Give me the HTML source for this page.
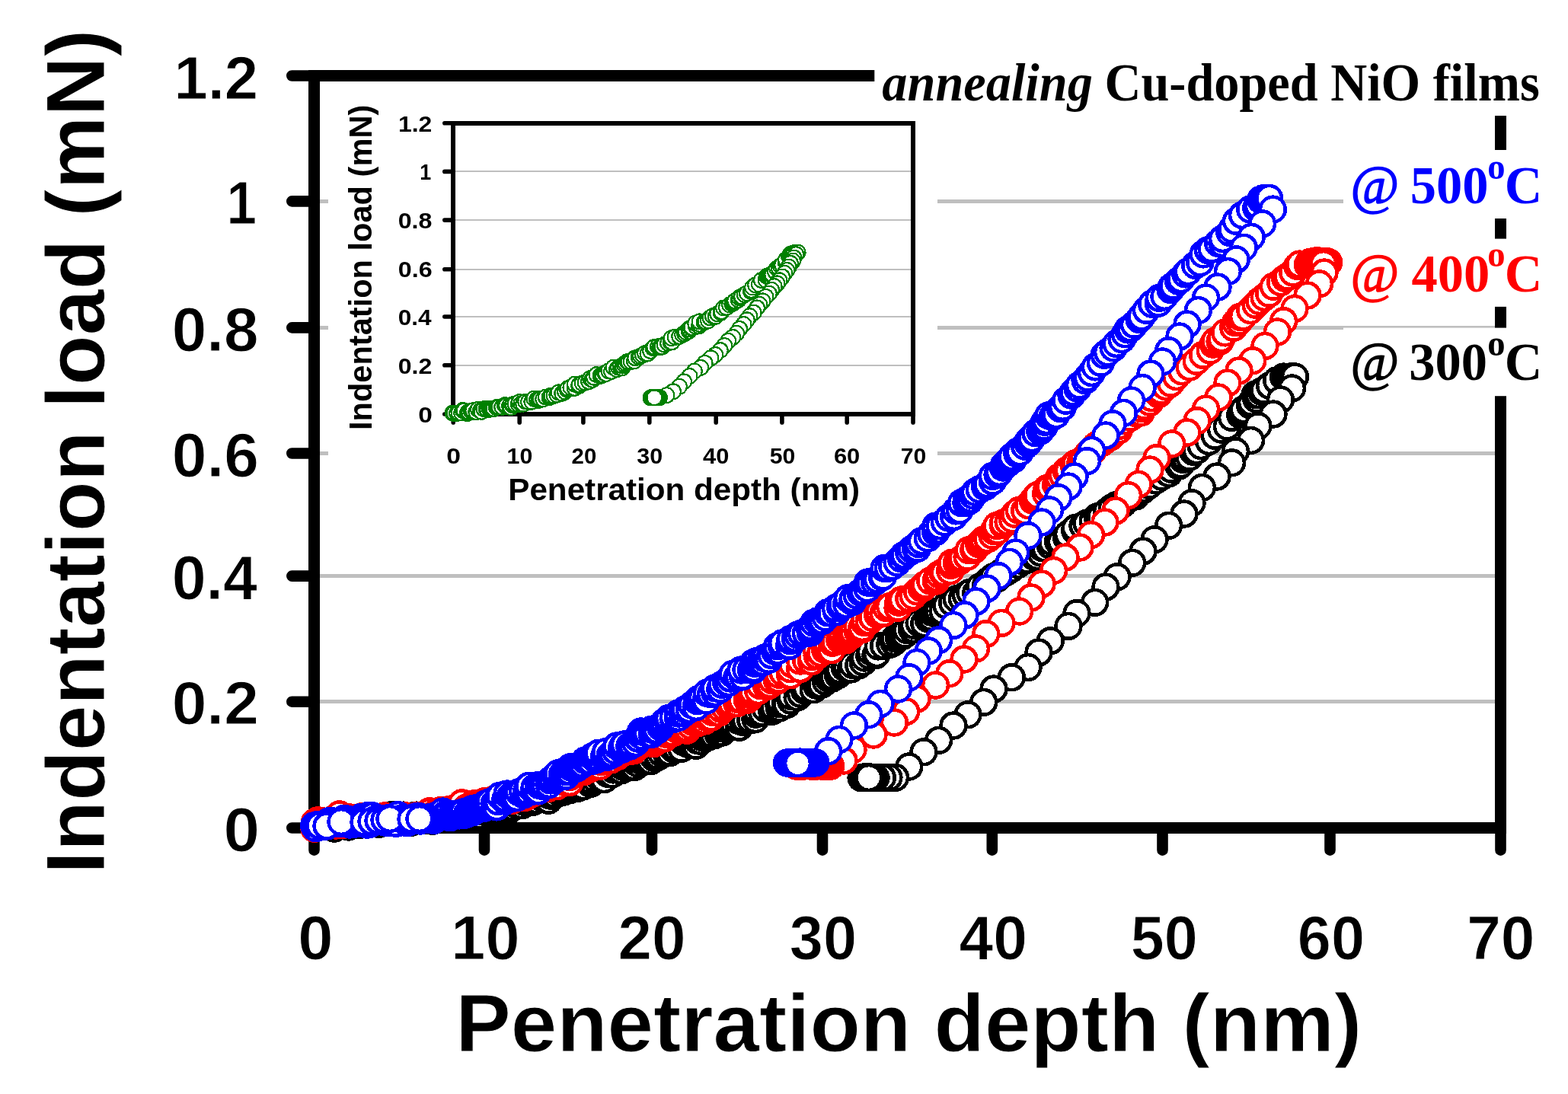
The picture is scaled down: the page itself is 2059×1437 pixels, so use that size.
<!DOCTYPE html>
<html lang="en"><head><meta charset="utf-8"><title>Indentation load vs penetration depth</title>
<style>html,body{margin:0;padding:0;background:#fff}body{width:2059px;height:1437px;overflow:hidden}svg{display:block}text{white-space:pre}</style>
</head><body>
<svg width="2059" height="1437" viewBox="0 0 2059 1437">
<rect width="2059" height="1437" fill="#fff"/>
<g stroke="#bfbfbf" stroke-width="5" shape-rendering="crispEdges">
<line x1="412.5" y1="264.4" x2="1970.5" y2="264.4"/>
<line x1="412.5" y1="430.4" x2="1970.5" y2="430.4"/>
<line x1="412.5" y1="595.5" x2="1970.5" y2="595.5"/>
<line x1="412.5" y1="756.6" x2="1970.5" y2="756.6"/>
<line x1="412.5" y1="921.7" x2="1970.5" y2="921.7"/>
</g>
<g stroke="#000" stroke-width="15" fill="none">
<path d="M412.5 92.0 V1087.5 M1970.5 92.0 V1087.5 M405.0 99.5 H1978.0 M405.0 1087.5 H1978.0" shape-rendering="crispEdges"/>
<path d="M383.3 99.5 H412.5 M383.3 264.4 H412.5 M383.3 430.4 H412.5 M383.3 595.5 H412.5 M383.3 756.6 H412.5 M383.3 921.7 H412.5 M383.3 1087.5 H412.5 M412.5 1087.5 V1116.7 M636 1087.5 V1116.7 M856 1087.5 V1116.7 M1080 1087.5 V1116.7 M1302.8 1087.5 V1116.7 M1526.5 1087.5 V1116.7 M1746.5 1087.5 V1116.7 M1970.5 1087.5 V1116.7" stroke-linecap="round" stroke-width="14.6"/>
</g>
<text transform="translate(228.42 130.00) scale(0.9961 1)" font-family="'Liberation Sans', sans-serif" font-weight="bold" font-style="normal" font-size="80.00" fill="#000" stroke="#fff" stroke-width="1">1.2</text>
<text transform="translate(297.39 294.00) scale(0.8871 1)" font-family="'Liberation Sans', sans-serif" font-weight="bold" font-style="normal" font-size="80.00" fill="#000" stroke="#fff" stroke-width="1">1</text>
<text transform="translate(225.73 460.50) scale(1.0137 1)" font-family="'Liberation Sans', sans-serif" font-weight="bold" font-style="normal" font-size="80.71" fill="#000" stroke="#fff" stroke-width="1">0.8</text>
<text transform="translate(225.71 625.50) scale(1.0175 1)" font-family="'Liberation Sans', sans-serif" font-weight="bold" font-style="normal" font-size="80.71" fill="#000" stroke="#fff" stroke-width="1">0.6</text>
<text transform="translate(225.77 786.50) scale(0.9994 1)" font-family="'Liberation Sans', sans-serif" font-weight="bold" font-style="normal" font-size="80.71" fill="#000" stroke="#fff" stroke-width="1">0.4</text>
<text transform="translate(225.72 951.00) scale(1.0258 1)" font-family="'Liberation Sans', sans-serif" font-weight="bold" font-style="normal" font-size="80.00" fill="#000" stroke="#fff" stroke-width="1">0.2</text>
<text transform="translate(293.58 1117.50) scale(1.0590 1)" font-family="'Liberation Sans', sans-serif" font-weight="bold" font-style="normal" font-size="80.71" fill="#000" stroke="#fff" stroke-width="1">0</text>
<text transform="translate(391.17 1259.60) scale(1.0212 1)" font-family="'Liberation Sans', sans-serif" font-weight="bold" font-style="normal" font-size="81.43" fill="#000" stroke="#fff" stroke-width="1">0</text>
<text transform="translate(592.34 1259.60) scale(0.9947 1)" font-family="'Liberation Sans', sans-serif" font-weight="bold" font-style="normal" font-size="81.43" fill="#000" stroke="#fff" stroke-width="1">10</text>
<text transform="translate(811.60 1259.60) scale(0.9825 1)" font-family="'Liberation Sans', sans-serif" font-weight="bold" font-style="normal" font-size="81.43" fill="#000" stroke="#fff" stroke-width="1">20</text>
<text transform="translate(1036.82 1259.60) scale(0.9731 1)" font-family="'Liberation Sans', sans-serif" font-weight="bold" font-style="normal" font-size="81.43" fill="#000" stroke="#fff" stroke-width="1">30</text>
<text transform="translate(1259.49 1259.60) scale(0.9883 1)" font-family="'Liberation Sans', sans-serif" font-weight="bold" font-style="normal" font-size="81.43" fill="#000" stroke="#fff" stroke-width="1">40</text>
<text transform="translate(1484.63 1259.60) scale(0.9718 1)" font-family="'Liberation Sans', sans-serif" font-weight="bold" font-style="normal" font-size="81.43" fill="#000" stroke="#fff" stroke-width="1">50</text>
<text transform="translate(1703.83 1259.60) scale(0.9730 1)" font-family="'Liberation Sans', sans-serif" font-weight="bold" font-style="normal" font-size="81.43" fill="#000" stroke="#fff" stroke-width="1">60</text>
<text transform="translate(1926.19 1259.60) scale(0.9849 1)" font-family="'Liberation Sans', sans-serif" font-weight="bold" font-style="normal" font-size="81.43" fill="#000" stroke="#fff" stroke-width="1">70</text>
<text transform="translate(598.13 1381.10) scale(1.0075 1)" font-family="'Liberation Sans', sans-serif" font-weight="bold" font-style="normal" font-size="107.94" fill="#000" stroke="#fff" stroke-width="1">Penetration depth (nm)</text>
<text transform="translate(137 1141) rotate(-90) translate(-7.02 0.00) scale(0.9886 1)" font-family="'Liberation Sans', sans-serif" font-weight="bold" font-style="normal" font-size="109.22" fill="#000" stroke="#fff" stroke-width="1">Indentation load (mN)</text>
<rect x="431" y="108" width="800" height="568" fill="#fff"/>
<g stroke="#bfbfbf" stroke-width="2" shape-rendering="crispEdges">
<line x1="595.2" y1="225.4" x2="1199" y2="225.4"/>
<line x1="595.2" y1="289.1" x2="1199" y2="289.1"/>
<line x1="595.2" y1="353.8" x2="1199" y2="353.8"/>
<line x1="595.2" y1="416" x2="1199" y2="416"/>
<line x1="595.2" y1="479.7" x2="1199" y2="479.7"/>
</g>
<g stroke="#000" stroke-width="5.8" fill="none">
<path d="M595.2 158.9 V544 M1199 158.9 V544 M592.3000000000001 161.8 H1201.9 M592.3000000000001 544 H1201.9" shape-rendering="crispEdges"/>
<path d="M583.8 161.8 H595.2 M583.8 225.4 H595.2 M583.8 289.1 H595.2 M583.8 353.8 H595.2 M583.8 416 H595.2 M583.8 479.7 H595.2 M583.8 544 H595.2 M595.2 544 V554.9000000000001 M682.2 544 V554.9000000000001 M765.9 544 V554.9000000000001 M852.8 544 V554.9000000000001 M940.2 544 V554.9000000000001 M1026.9 544 V554.9000000000001 M1112.2 544 V554.9000000000001 M1199 544 V554.9000000000001" stroke-linecap="round" stroke-width="5.6"/>
</g>
<text transform="translate(522.93 173.00) scale(1.0738 1)" font-family="'Liberation Sans', sans-serif" font-weight="bold" font-style="normal" font-size="29.71" fill="#000" >1.2</text>
<text transform="translate(551.25 236.00) scale(0.8918 1)" font-family="'Liberation Sans', sans-serif" font-weight="bold" font-style="normal" font-size="30.14" fill="#000" >1</text>
<text transform="translate(522.71 300.20) scale(1.0631 1)" font-family="'Liberation Sans', sans-serif" font-weight="bold" font-style="normal" font-size="30.29" fill="#000" >0.8</text>
<text transform="translate(522.71 364.00) scale(1.0773 1)" font-family="'Liberation Sans', sans-serif" font-weight="bold" font-style="normal" font-size="30.00" fill="#000" >0.6</text>
<text transform="translate(522.74 426.70) scale(1.0533 1)" font-family="'Liberation Sans', sans-serif" font-weight="bold" font-style="normal" font-size="30.00" fill="#000" >0.4</text>
<text transform="translate(522.72 491.00) scale(1.0586 1)" font-family="'Liberation Sans', sans-serif" font-weight="bold" font-style="normal" font-size="30.29" fill="#000" >0.2</text>
<text transform="translate(549.26 554.50) scale(1.1158 1)" font-family="'Liberation Sans', sans-serif" font-weight="bold" font-style="normal" font-size="30.00" fill="#000" >0</text>
<text transform="translate(586.35 609.20) scale(1.1122 1)" font-family="'Liberation Sans', sans-serif" font-weight="bold" font-style="normal" font-size="30.29" fill="#000" >0</text>
<text transform="translate(665.53 609.20) scale(1.0021 1)" font-family="'Liberation Sans', sans-serif" font-weight="bold" font-style="normal" font-size="30.29" fill="#000" >10</text>
<text transform="translate(750.57 609.20) scale(0.9698 1)" font-family="'Liberation Sans', sans-serif" font-weight="bold" font-style="normal" font-size="30.29" fill="#000" >20</text>
<text transform="translate(836.24 609.20) scale(1.0048 1)" font-family="'Liberation Sans', sans-serif" font-weight="bold" font-style="normal" font-size="30.29" fill="#000" >30</text>
<text transform="translate(923.04 609.20) scale(1.0172 1)" font-family="'Liberation Sans', sans-serif" font-weight="bold" font-style="normal" font-size="30.29" fill="#000" >40</text>
<text transform="translate(1010.69 609.20) scale(0.9969 1)" font-family="'Liberation Sans', sans-serif" font-weight="bold" font-style="normal" font-size="30.29" fill="#000" >50</text>
<text transform="translate(1094.92 609.20) scale(1.0209 1)" font-family="'Liberation Sans', sans-serif" font-weight="bold" font-style="normal" font-size="30.29" fill="#000" >60</text>
<text transform="translate(1182.64 609.20) scale(0.9986 1)" font-family="'Liberation Sans', sans-serif" font-weight="bold" font-style="normal" font-size="30.29" fill="#000" >70</text>
<text transform="translate(667.26 657.30) scale(1.0438 1)" font-family="'Liberation Sans', sans-serif" font-weight="bold" font-style="normal" font-size="40.43" fill="#000" >Penetration depth (nm)</text>
<text transform="translate(488.3 562.3) rotate(-90) translate(-2.70 0.00) scale(0.9938 1)" font-family="'Liberation Sans', sans-serif" font-weight="bold" font-style="normal" font-size="41.84" fill="#000" >Indentation load (mN)</text>
<g fill="#fff" stroke="#008000" stroke-width="2.2" shape-rendering="crispEdges">
<circle cx="594.6" cy="542.7" r="9.9"/><circle cx="596.6" cy="542.6" r="9.9"/><circle cx="600.1" cy="542.9" r="9.9"/><circle cx="602.6" cy="542.3" r="9.9"/><circle cx="606.1" cy="542.5" r="9.9"/><circle cx="607.6" cy="539" r="9.9"/><circle cx="609.6" cy="539.5" r="9.9"/><circle cx="613.7" cy="543.1" r="9.9"/><circle cx="614.8" cy="541.3" r="9.9"/><circle cx="616.3" cy="541.6" r="9.9"/><circle cx="618.5" cy="539.8" r="9.9"/><circle cx="619.2" cy="540" r="9.9"/><circle cx="621.2" cy="539.2" r="9.9"/><circle cx="625.3" cy="541.2" r="9.9"/><circle cx="627.9" cy="537.8" r="9.9"/><circle cx="631.1" cy="539" r="9.9"/><circle cx="632.3" cy="540.8" r="9.9"/><circle cx="635.4" cy="537.2" r="9.9"/><circle cx="638.8" cy="536.9" r="9.9"/><circle cx="640.2" cy="538.5" r="9.9"/><circle cx="643" cy="537.7" r="9.9"/><circle cx="644.3" cy="537.2" r="9.9"/><circle cx="645.5" cy="536.5" r="9.9"/><circle cx="646.3" cy="537" r="9.9"/><circle cx="647.7" cy="537.4" r="9.9"/><circle cx="648.4" cy="537" r="9.9"/><circle cx="651.9" cy="535.1" r="9.9"/><circle cx="653.5" cy="534.9" r="9.9"/><circle cx="655.4" cy="534.6" r="9.9"/><circle cx="659.2" cy="534.8" r="9.9"/><circle cx="662.9" cy="532.1" r="9.9"/><circle cx="664.2" cy="533.7" r="9.9"/><circle cx="665.1" cy="532.6" r="9.9"/><circle cx="669" cy="533.2" r="9.9"/><circle cx="670.7" cy="535.2" r="9.9"/><circle cx="672.7" cy="532.1" r="9.9"/><circle cx="673.8" cy="531.1" r="9.9"/><circle cx="676.4" cy="530.7" r="9.9"/><circle cx="680.8" cy="531.2" r="9.9"/><circle cx="681.9" cy="528.1" r="9.9"/><circle cx="684.4" cy="530.3" r="9.9"/><circle cx="687.2" cy="530.6" r="9.9"/><circle cx="690.2" cy="527.5" r="9.9"/><circle cx="694" cy="528" r="9.9"/><circle cx="698.4" cy="527.7" r="9.9"/><circle cx="701.3" cy="523.7" r="9.9"/><circle cx="705.1" cy="525.1" r="9.9"/><circle cx="707.4" cy="525.9" r="9.9"/><circle cx="708.2" cy="525.2" r="9.9"/><circle cx="709.7" cy="524" r="9.9"/><circle cx="713.2" cy="524.3" r="9.9"/><circle cx="716.8" cy="521.6" r="9.9"/><circle cx="721.5" cy="522" r="9.9"/><circle cx="722.6" cy="520" r="9.9"/><circle cx="724.4" cy="520.2" r="9.9"/><circle cx="727.5" cy="519.8" r="9.9"/><circle cx="731.4" cy="518.5" r="9.9"/><circle cx="733.7" cy="515.4" r="9.9"/><circle cx="738.3" cy="516.7" r="9.9"/><circle cx="742" cy="514.5" r="9.9"/><circle cx="745" cy="512" r="9.9"/><circle cx="745.8" cy="510.1" r="9.9"/><circle cx="749.4" cy="508.8" r="9.9"/><circle cx="754.8" cy="509.8" r="9.9"/><circle cx="754.9" cy="504.6" r="9.9"/><circle cx="760.1" cy="507" r="9.9"/><circle cx="760.8" cy="505.2" r="9.9"/><circle cx="764.7" cy="503.4" r="9.9"/><circle cx="768.7" cy="502.6" r="9.9"/><circle cx="773.1" cy="501.1" r="9.9"/><circle cx="775" cy="497.1" r="9.9"/><circle cx="777.2" cy="498.7" r="9.9"/><circle cx="778.2" cy="498.9" r="9.9"/><circle cx="780" cy="495.7" r="9.9"/><circle cx="783.4" cy="492.1" r="9.9"/><circle cx="788.5" cy="493.8" r="9.9"/><circle cx="789.6" cy="492.1" r="9.9"/><circle cx="791.7" cy="492.5" r="9.9"/><circle cx="794.2" cy="490.2" r="9.9"/><circle cx="796" cy="491" r="9.9"/><circle cx="799.3" cy="487.2" r="9.9"/><circle cx="803" cy="487.9" r="9.9"/><circle cx="805.7" cy="482.7" r="9.9"/><circle cx="809.9" cy="485.3" r="9.9"/><circle cx="812.1" cy="482.6" r="9.9"/><circle cx="814.6" cy="481.7" r="9.9"/><circle cx="817" cy="483.2" r="9.9"/><circle cx="817.5" cy="480.5" r="9.9"/><circle cx="819.9" cy="479" r="9.9"/><circle cx="821.3" cy="476.9" r="9.9"/><circle cx="823.8" cy="475.1" r="9.9"/><circle cx="825.6" cy="475.8" r="9.9"/><circle cx="828.8" cy="475.1" r="9.9"/><circle cx="832.9" cy="474.3" r="9.9"/><circle cx="834.2" cy="470.2" r="9.9"/><circle cx="838.9" cy="469.1" r="9.9"/><circle cx="841.1" cy="467.6" r="9.9"/><circle cx="843.9" cy="466.3" r="9.9"/><circle cx="847" cy="464.1" r="9.9"/><circle cx="850.5" cy="464.5" r="9.9"/><circle cx="854.1" cy="461" r="9.9"/><circle cx="857.6" cy="457.2" r="9.9"/><circle cx="859.2" cy="455.9" r="9.9"/><circle cx="863.9" cy="455.3" r="9.9"/><circle cx="866.3" cy="456.5" r="9.9"/><circle cx="867.3" cy="455.8" r="9.9"/><circle cx="869.4" cy="455.6" r="9.9"/><circle cx="872.7" cy="452.7" r="9.9"/><circle cx="877.1" cy="450.7" r="9.9"/><circle cx="880.6" cy="449.3" r="9.9"/><circle cx="882.4" cy="449.3" r="9.9"/><circle cx="881.7" cy="444.2" r="9.9"/><circle cx="886.6" cy="442.7" r="9.9"/><circle cx="892.2" cy="441.9" r="9.9"/><circle cx="896.1" cy="439.5" r="9.9"/><circle cx="899.1" cy="438.3" r="9.9"/><circle cx="900.8" cy="436.3" r="9.9"/><circle cx="904.7" cy="434.9" r="9.9"/><circle cx="904.4" cy="432.3" r="9.9"/><circle cx="905.7" cy="432.5" r="9.9"/><circle cx="907.5" cy="430.7" r="9.9"/><circle cx="908.5" cy="430.1" r="9.9"/><circle cx="914.1" cy="429" r="9.9"/><circle cx="913.2" cy="424.7" r="9.9"/><circle cx="917.9" cy="428.3" r="9.9"/><circle cx="918.9" cy="425.8" r="9.9"/><circle cx="918.6" cy="422.4" r="9.9"/><circle cx="924.6" cy="423.3" r="9.9"/><circle cx="926.6" cy="422.5" r="9.9"/><circle cx="930" cy="421.2" r="9.9"/><circle cx="932.5" cy="417.4" r="9.9"/><circle cx="935.9" cy="415.1" r="9.9"/><circle cx="939.7" cy="415.7" r="9.9"/><circle cx="942.2" cy="412.4" r="9.9"/><circle cx="946.7" cy="410.7" r="9.9"/><circle cx="947.3" cy="409.2" r="9.9"/><circle cx="950.1" cy="404.5" r="9.9"/><circle cx="953.9" cy="403.8" r="9.9"/><circle cx="958.1" cy="400.5" r="9.9"/><circle cx="961.4" cy="399.2" r="9.9"/><circle cx="963.1" cy="398" r="9.9"/><circle cx="964" cy="397.2" r="9.9"/><circle cx="965.1" cy="395.3" r="9.9"/><circle cx="969.7" cy="393.9" r="9.9"/><circle cx="970.6" cy="391" r="9.9"/><circle cx="973.2" cy="390.2" r="9.9"/><circle cx="974.1" cy="389.5" r="9.9"/><circle cx="977.8" cy="387.1" r="9.9"/><circle cx="980.9" cy="385.2" r="9.9"/><circle cx="985.8" cy="382.5" r="9.9"/><circle cx="986.6" cy="381" r="9.9"/><circle cx="988.1" cy="377.5" r="9.9"/><circle cx="992.1" cy="374.4" r="9.9"/><circle cx="996.9" cy="373.4" r="9.9"/><circle cx="999.9" cy="368" r="9.9"/><circle cx="1005.5" cy="367.8" r="9.9"/><circle cx="1006.8" cy="362.8" r="9.9"/><circle cx="1008.9" cy="363.3" r="9.9"/><circle cx="1011" cy="363.2" r="9.9"/><circle cx="1012.1" cy="360.9" r="9.9"/><circle cx="1014.3" cy="360.6" r="9.9"/><circle cx="1017.8" cy="356.5" r="9.9"/><circle cx="1020.1" cy="352.5" r="9.9"/><circle cx="1022.7" cy="351.7" r="9.9"/><circle cx="1025" cy="349.3" r="9.9"/><circle cx="1027.1" cy="348" r="9.9"/><circle cx="1031.6" cy="344.2" r="9.9"/><circle cx="1031.9" cy="341.3" r="9.9"/><circle cx="1036.1" cy="337.1" r="9.9"/><circle cx="1038" cy="337.5" r="9.9"/><circle cx="1038.3" cy="333.5" r="9.9"/><circle cx="1039.8" cy="333.3" r="9.9"/><circle cx="1041.6" cy="332.4" r="9.9"/><circle cx="1042.9" cy="332.1" r="9.9"/><circle cx="1045.9" cy="332.1" r="9.9"/><circle cx="1047.6" cy="331.6" r="9.9"/><circle cx="1045.2" cy="334.1" r="9.9"/><circle cx="1042.3" cy="338.5" r="9.9"/><circle cx="1041.1" cy="342.6" r="9.9"/><circle cx="1038" cy="345.9" r="9.9"/><circle cx="1035.7" cy="350.6" r="9.9"/><circle cx="1033.3" cy="354.9" r="9.9"/><circle cx="1030.4" cy="358.9" r="9.9"/><circle cx="1027.1" cy="363.5" r="9.9"/><circle cx="1023.4" cy="368.3" r="9.9"/><circle cx="1020.5" cy="372.4" r="9.9"/><circle cx="1016.6" cy="376.1" r="9.9"/><circle cx="1013.1" cy="380.9" r="9.9"/><circle cx="1009.8" cy="385.6" r="9.9"/><circle cx="1005.5" cy="389.8" r="9.9"/><circle cx="1001.5" cy="395.4" r="9.9"/><circle cx="997.4" cy="399.9" r="9.9"/><circle cx="994" cy="404.4" r="9.9"/><circle cx="989.7" cy="410.7" r="9.9"/><circle cx="984.5" cy="415.2" r="9.9"/><circle cx="980.8" cy="420.3" r="9.9"/><circle cx="976.5" cy="426" r="9.9"/><circle cx="971.1" cy="432" r="9.9"/><circle cx="967.2" cy="437.7" r="9.9"/><circle cx="962.3" cy="443" r="9.9"/><circle cx="956.2" cy="447.8" r="9.9"/><circle cx="951.2" cy="454" r="9.9"/><circle cx="945.8" cy="460.1" r="9.9"/><circle cx="939.4" cy="466" r="9.9"/><circle cx="933.4" cy="470.3" r="9.9"/><circle cx="925.6" cy="476.8" r="9.9"/><circle cx="920.2" cy="482.9" r="9.9"/><circle cx="911.9" cy="487.5" r="9.9"/><circle cx="905.5" cy="494" r="9.9"/><circle cx="898.1" cy="501.4" r="9.9"/><circle cx="892" cy="507.8" r="9.9"/><circle cx="884" cy="514.3" r="9.9"/><circle cx="875.5" cy="519.1" r="9.9"/><circle cx="866" cy="522.3" r="9.9"/><circle cx="864.6" cy="522.3" r="9.9"/><circle cx="863.1" cy="522.3" r="9.9"/><circle cx="861.7" cy="522.3" r="9.9"/><circle cx="860.2" cy="522.3" r="9.9"/><circle cx="858.8" cy="522.3" r="9.9"/><circle cx="857.4" cy="522.3" r="9.9"/><circle cx="855.9" cy="522.3" r="9.9"/><circle cx="854.5" cy="522.3" r="9.9"/><circle cx="855.5" cy="522.3" r="9.9"/><circle cx="857.4" cy="522.3" r="9.9"/><circle cx="859.3" cy="522.3" r="9.9"/>
</g>
<g fill="#fff" stroke="#000" stroke-width="4.6" shape-rendering="crispEdges">
<circle cx="412.8" cy="1086.5" r="16.4"/><circle cx="416.1" cy="1086.7" r="16.4"/><circle cx="417.3" cy="1079.8" r="16.4"/><circle cx="420.4" cy="1082.7" r="16.4"/><circle cx="423.8" cy="1083" r="16.4"/><circle cx="427.3" cy="1082.6" r="16.4"/><circle cx="429.4" cy="1082.2" r="16.4"/><circle cx="431.7" cy="1081.9" r="16.4"/><circle cx="434.9" cy="1082.7" r="16.4"/><circle cx="438.9" cy="1088.1" r="16.4"/><circle cx="439.6" cy="1085" r="16.4"/><circle cx="443.3" cy="1082" r="16.4"/><circle cx="445.3" cy="1081.9" r="16.4"/><circle cx="446.3" cy="1084.1" r="16.4"/><circle cx="447.5" cy="1078.3" r="16.4"/><circle cx="449.2" cy="1082.3" r="16.4"/><circle cx="450.7" cy="1081.6" r="16.4"/><circle cx="452.5" cy="1083.9" r="16.4"/><circle cx="453.2" cy="1082.7" r="16.4"/><circle cx="455.9" cy="1077.8" r="16.4"/><circle cx="457.7" cy="1086" r="16.4"/><circle cx="458.5" cy="1080.4" r="16.4"/><circle cx="460.4" cy="1079.8" r="16.4"/><circle cx="464.1" cy="1076.1" r="16.4"/><circle cx="466.6" cy="1082.1" r="16.4"/><circle cx="468.1" cy="1076.6" r="16.4"/><circle cx="471.2" cy="1083.8" r="16.4"/><circle cx="473.3" cy="1076.3" r="16.4"/><circle cx="476.4" cy="1081.6" r="16.4"/><circle cx="479.7" cy="1079.9" r="16.4"/><circle cx="482" cy="1080.9" r="16.4"/><circle cx="485.2" cy="1082.1" r="16.4"/><circle cx="488" cy="1076.9" r="16.4"/><circle cx="490.7" cy="1080.8" r="16.4"/><circle cx="493.9" cy="1075.8" r="16.4"/><circle cx="496.4" cy="1078" r="16.4"/><circle cx="497.6" cy="1082.3" r="16.4"/><circle cx="501.6" cy="1079.2" r="16.4"/><circle cx="504.2" cy="1076.5" r="16.4"/><circle cx="506.9" cy="1078.7" r="16.4"/><circle cx="511" cy="1077.8" r="16.4"/><circle cx="514.5" cy="1073.8" r="16.4"/><circle cx="515.8" cy="1070.4" r="16.4"/><circle cx="519" cy="1076.2" r="16.4"/><circle cx="521.4" cy="1076.2" r="16.4"/><circle cx="525.8" cy="1079.7" r="16.4"/><circle cx="526.4" cy="1077.3" r="16.4"/><circle cx="529.9" cy="1071.1" r="16.4"/><circle cx="533.7" cy="1076.9" r="16.4"/><circle cx="536.2" cy="1072.5" r="16.4"/><circle cx="539.1" cy="1080.5" r="16.4"/><circle cx="541.6" cy="1077" r="16.4"/><circle cx="542.7" cy="1071.9" r="16.4"/><circle cx="545" cy="1074.8" r="16.4"/><circle cx="546.8" cy="1071.1" r="16.4"/><circle cx="549.9" cy="1073.6" r="16.4"/><circle cx="552.6" cy="1076.2" r="16.4"/><circle cx="553.9" cy="1074.5" r="16.4"/><circle cx="557" cy="1077.1" r="16.4"/><circle cx="560.1" cy="1070" r="16.4"/><circle cx="564.1" cy="1073.2" r="16.4"/><circle cx="567.8" cy="1078.3" r="16.4"/><circle cx="568.5" cy="1073.5" r="16.4"/><circle cx="572" cy="1072.8" r="16.4"/><circle cx="573.9" cy="1075.5" r="16.4"/><circle cx="575.9" cy="1074.8" r="16.4"/><circle cx="576.9" cy="1074.1" r="16.4"/><circle cx="578.4" cy="1075" r="16.4"/><circle cx="579.9" cy="1071.3" r="16.4"/><circle cx="581.7" cy="1069" r="16.4"/><circle cx="584.7" cy="1074.2" r="16.4"/><circle cx="586.9" cy="1071.8" r="16.4"/><circle cx="588.7" cy="1075.7" r="16.4"/><circle cx="591.4" cy="1074.6" r="16.4"/><circle cx="592.2" cy="1066.9" r="16.4"/><circle cx="593.1" cy="1067.7" r="16.4"/><circle cx="594.6" cy="1073.2" r="16.4"/><circle cx="596.1" cy="1073.9" r="16.4"/><circle cx="599" cy="1068.6" r="16.4"/><circle cx="600.4" cy="1066.9" r="16.4"/><circle cx="605.3" cy="1070.3" r="16.4"/><circle cx="606.4" cy="1066.1" r="16.4"/><circle cx="609.7" cy="1066" r="16.4"/><circle cx="612.4" cy="1070.6" r="16.4"/><circle cx="615.6" cy="1070.2" r="16.4"/><circle cx="619.8" cy="1068.2" r="16.4"/><circle cx="623.5" cy="1065" r="16.4"/><circle cx="626.6" cy="1071.4" r="16.4"/><circle cx="630.2" cy="1065.7" r="16.4"/><circle cx="631.5" cy="1062.7" r="16.4"/><circle cx="632.9" cy="1065.9" r="16.4"/><circle cx="636.7" cy="1064.2" r="16.4"/><circle cx="641" cy="1062.4" r="16.4"/><circle cx="645.3" cy="1062.5" r="16.4"/><circle cx="649.9" cy="1061.5" r="16.4"/><circle cx="651.8" cy="1058.9" r="16.4"/><circle cx="654.7" cy="1062.6" r="16.4"/><circle cx="657.7" cy="1064.9" r="16.4"/><circle cx="659.2" cy="1063.9" r="16.4"/><circle cx="661" cy="1062.8" r="16.4"/><circle cx="662.9" cy="1057.5" r="16.4"/><circle cx="668.7" cy="1063.8" r="16.4"/><circle cx="668.8" cy="1059.6" r="16.4"/><circle cx="673.8" cy="1060.2" r="16.4"/><circle cx="677.1" cy="1056.2" r="16.4"/><circle cx="681.1" cy="1057.9" r="16.4"/><circle cx="685.4" cy="1057.7" r="16.4"/><circle cx="689.1" cy="1053.5" r="16.4"/><circle cx="691" cy="1046" r="16.4"/><circle cx="694.8" cy="1053.9" r="16.4"/><circle cx="698.8" cy="1053.6" r="16.4"/><circle cx="703.1" cy="1051.8" r="16.4"/><circle cx="704.6" cy="1050.8" r="16.4"/><circle cx="707.7" cy="1045.8" r="16.4"/><circle cx="710.7" cy="1047.5" r="16.4"/><circle cx="716" cy="1049" r="16.4"/><circle cx="720.4" cy="1051.2" r="16.4"/><circle cx="719.5" cy="1044.1" r="16.4"/><circle cx="723.3" cy="1045.1" r="16.4"/><circle cx="724.3" cy="1044.5" r="16.4"/><circle cx="728.9" cy="1043.6" r="16.4"/><circle cx="728.9" cy="1037" r="16.4"/><circle cx="734.2" cy="1040.9" r="16.4"/><circle cx="736.2" cy="1036.7" r="16.4"/><circle cx="739.5" cy="1040.2" r="16.4"/><circle cx="743.6" cy="1037.7" r="16.4"/><circle cx="747.4" cy="1038" r="16.4"/><circle cx="747.9" cy="1033.5" r="16.4"/><circle cx="752.5" cy="1033.4" r="16.4"/><circle cx="755.9" cy="1031.5" r="16.4"/><circle cx="758.8" cy="1035.3" r="16.4"/><circle cx="759.7" cy="1034.4" r="16.4"/><circle cx="761.2" cy="1032.9" r="16.4"/><circle cx="761.5" cy="1029.5" r="16.4"/><circle cx="763.2" cy="1029.3" r="16.4"/><circle cx="766" cy="1032.8" r="16.4"/><circle cx="767.1" cy="1022" r="16.4"/><circle cx="775.5" cy="1029.5" r="16.4"/><circle cx="775.7" cy="1024" r="16.4"/><circle cx="778.2" cy="1026.4" r="16.4"/><circle cx="780.8" cy="1022.5" r="16.4"/><circle cx="785.7" cy="1020.2" r="16.4"/><circle cx="786.9" cy="1017" r="16.4"/><circle cx="789.4" cy="1016.8" r="16.4"/><circle cx="793.4" cy="1023.6" r="16.4"/><circle cx="794.9" cy="1012.5" r="16.4"/><circle cx="797.9" cy="1016.2" r="16.4"/><circle cx="804" cy="1016.9" r="16.4"/><circle cx="805.4" cy="1010.9" r="16.4"/><circle cx="806.7" cy="1008.1" r="16.4"/><circle cx="811" cy="1009.6" r="16.4"/><circle cx="813.2" cy="1011.6" r="16.4"/><circle cx="815.7" cy="1011.8" r="16.4"/><circle cx="818.4" cy="1007.3" r="16.4"/><circle cx="823.1" cy="1008.6" r="16.4"/><circle cx="824.3" cy="1004.5" r="16.4"/><circle cx="826.3" cy="1002.6" r="16.4"/><circle cx="833.5" cy="1007.3" r="16.4"/><circle cx="833.7" cy="1000.4" r="16.4"/><circle cx="838.8" cy="1003.5" r="16.4"/><circle cx="841.4" cy="999.4" r="16.4"/><circle cx="843.7" cy="999.2" r="16.4"/><circle cx="844.5" cy="997.3" r="16.4"/><circle cx="846" cy="997.5" r="16.4"/><circle cx="849.6" cy="995.3" r="16.4"/><circle cx="854.7" cy="999.6" r="16.4"/><circle cx="858.7" cy="995.3" r="16.4"/><circle cx="863.7" cy="994.5" r="16.4"/><circle cx="864.7" cy="993" r="16.4"/><circle cx="868.7" cy="989.5" r="16.4"/><circle cx="874.8" cy="989.1" r="16.4"/><circle cx="875.3" cy="985.6" r="16.4"/><circle cx="880" cy="988.4" r="16.4"/><circle cx="884.3" cy="983.8" r="16.4"/><circle cx="886.6" cy="984.8" r="16.4"/><circle cx="888.8" cy="983.1" r="16.4"/><circle cx="894.9" cy="983.4" r="16.4"/><circle cx="897.4" cy="974.6" r="16.4"/><circle cx="903.7" cy="977.5" r="16.4"/><circle cx="906.5" cy="975.5" r="16.4"/><circle cx="908.5" cy="975.4" r="16.4"/><circle cx="909.6" cy="971.7" r="16.4"/><circle cx="914.1" cy="979.3" r="16.4"/><circle cx="915.6" cy="972.3" r="16.4"/><circle cx="920.4" cy="973.5" r="16.4"/><circle cx="921.7" cy="968.5" r="16.4"/><circle cx="925.3" cy="969.5" r="16.4"/><circle cx="929.7" cy="968.4" r="16.4"/><circle cx="932.2" cy="965.7" r="16.4"/><circle cx="935.2" cy="964.9" r="16.4"/><circle cx="937.6" cy="965.9" r="16.4"/><circle cx="942.7" cy="963.7" r="16.4"/><circle cx="943.9" cy="958.3" r="16.4"/><circle cx="948.2" cy="962" r="16.4"/><circle cx="947.2" cy="956.7" r="16.4"/><circle cx="952.4" cy="957.2" r="16.4"/><circle cx="955.2" cy="954.7" r="16.4"/><circle cx="956.5" cy="951.6" r="16.4"/><circle cx="960.9" cy="951.9" r="16.4"/><circle cx="964.9" cy="952.5" r="16.4"/><circle cx="970.7" cy="955.2" r="16.4"/><circle cx="969.9" cy="946.4" r="16.4"/><circle cx="975.9" cy="948.5" r="16.4"/><circle cx="979.4" cy="946.2" r="16.4"/><circle cx="985.8" cy="945.8" r="16.4"/><circle cx="992" cy="944.6" r="16.4"/><circle cx="992.4" cy="938.1" r="16.4"/><circle cx="994.2" cy="934" r="16.4"/><circle cx="1000.9" cy="936.1" r="16.4"/><circle cx="1005.1" cy="930.6" r="16.4"/><circle cx="1013.8" cy="934.3" r="16.4"/><circle cx="1014.1" cy="929.5" r="16.4"/><circle cx="1017.2" cy="929.8" r="16.4"/><circle cx="1023.5" cy="929.9" r="16.4"/><circle cx="1022.6" cy="924.5" r="16.4"/><circle cx="1024.7" cy="921.2" r="16.4"/><circle cx="1031.2" cy="924.8" r="16.4"/><circle cx="1033.3" cy="925.5" r="16.4"/><circle cx="1038.5" cy="920.2" r="16.4"/><circle cx="1038.9" cy="914.5" r="16.4"/><circle cx="1047.1" cy="915.9" r="16.4"/><circle cx="1051.5" cy="911.5" r="16.4"/><circle cx="1056.3" cy="906.8" r="16.4"/><circle cx="1059.2" cy="903.8" r="16.4"/><circle cx="1068.2" cy="905.8" r="16.4"/><circle cx="1072.2" cy="900.1" r="16.4"/><circle cx="1076.5" cy="899.6" r="16.4"/><circle cx="1078.8" cy="899.3" r="16.4"/><circle cx="1084.5" cy="895.2" r="16.4"/><circle cx="1088.2" cy="891.3" r="16.4"/><circle cx="1092.6" cy="891.1" r="16.4"/><circle cx="1095.1" cy="889.5" r="16.4"/><circle cx="1100.5" cy="886.7" r="16.4"/><circle cx="1103.3" cy="883.2" r="16.4"/><circle cx="1103.3" cy="880.2" r="16.4"/><circle cx="1109.1" cy="876.8" r="16.4"/><circle cx="1112.4" cy="877.1" r="16.4"/><circle cx="1117.2" cy="879" r="16.4"/><circle cx="1120" cy="873.5" r="16.4"/><circle cx="1127.8" cy="873.8" r="16.4"/><circle cx="1133.2" cy="869.8" r="16.4"/><circle cx="1135.3" cy="864" r="16.4"/><circle cx="1141.9" cy="861.3" r="16.4"/><circle cx="1143.4" cy="855.9" r="16.4"/><circle cx="1150" cy="860.5" r="16.4"/><circle cx="1151.5" cy="858.7" r="16.4"/><circle cx="1153.3" cy="848.9" r="16.4"/><circle cx="1160.6" cy="848.2" r="16.4"/><circle cx="1168.9" cy="846.3" r="16.4"/><circle cx="1173.7" cy="843.6" r="16.4"/><circle cx="1175.1" cy="838.9" r="16.4"/><circle cx="1180.3" cy="837.6" r="16.4"/><circle cx="1180.6" cy="835.3" r="16.4"/><circle cx="1185.1" cy="835.5" r="16.4"/><circle cx="1188.6" cy="833.1" r="16.4"/><circle cx="1191.1" cy="827.7" r="16.4"/><circle cx="1197.2" cy="826" r="16.4"/><circle cx="1199.5" cy="826.6" r="16.4"/><circle cx="1200.4" cy="821.4" r="16.4"/><circle cx="1207.1" cy="818.1" r="16.4"/><circle cx="1213.8" cy="818.8" r="16.4"/><circle cx="1219" cy="812.9" r="16.4"/><circle cx="1222.9" cy="810.5" r="16.4"/><circle cx="1223.3" cy="804.1" r="16.4"/><circle cx="1227.7" cy="805.7" r="16.4"/><circle cx="1231.4" cy="803.5" r="16.4"/><circle cx="1232.8" cy="802.7" r="16.4"/><circle cx="1238.1" cy="802.6" r="16.4"/><circle cx="1243" cy="795.2" r="16.4"/><circle cx="1250.7" cy="791.8" r="16.4"/><circle cx="1256.2" cy="786.8" r="16.4"/><circle cx="1263.4" cy="786.2" r="16.4"/><circle cx="1268.4" cy="781.6" r="16.4"/><circle cx="1273.9" cy="778.2" r="16.4"/><circle cx="1281.8" cy="778.6" r="16.4"/><circle cx="1286.8" cy="770.8" r="16.4"/><circle cx="1294.6" cy="768.8" r="16.4"/><circle cx="1296.8" cy="763.7" r="16.4"/><circle cx="1300.7" cy="762.9" r="16.4"/><circle cx="1304.5" cy="757.6" r="16.4"/><circle cx="1309.4" cy="760" r="16.4"/><circle cx="1312.6" cy="754.7" r="16.4"/><circle cx="1313.8" cy="752.6" r="16.4"/><circle cx="1319.7" cy="752.3" r="16.4"/><circle cx="1323.6" cy="749.9" r="16.4"/><circle cx="1328.6" cy="746.8" r="16.4"/><circle cx="1336.6" cy="741.6" r="16.4"/><circle cx="1342.5" cy="736.8" r="16.4"/><circle cx="1349.4" cy="735.1" r="16.4"/><circle cx="1357.8" cy="731.1" r="16.4"/><circle cx="1362.2" cy="730.6" r="16.4"/><circle cx="1366.9" cy="726.1" r="16.4"/><circle cx="1368.9" cy="719.8" r="16.4"/><circle cx="1373.1" cy="720.4" r="16.4"/><circle cx="1379.2" cy="716.2" r="16.4"/><circle cx="1381.6" cy="711.9" r="16.4"/><circle cx="1389.5" cy="711.3" r="16.4"/><circle cx="1393.4" cy="711.3" r="16.4"/><circle cx="1400.4" cy="705.7" r="16.4"/><circle cx="1402.5" cy="701.8" r="16.4"/><circle cx="1411.6" cy="696.7" r="16.4"/><circle cx="1412.3" cy="693.5" r="16.4"/><circle cx="1422" cy="690.3" r="16.4"/><circle cx="1427" cy="687.3" r="16.4"/><circle cx="1435.2" cy="683.9" r="16.4"/><circle cx="1441.1" cy="678.7" r="16.4"/><circle cx="1445.7" cy="679.5" r="16.4"/><circle cx="1453.4" cy="672.1" r="16.4"/><circle cx="1460.4" cy="666.8" r="16.4"/><circle cx="1466.4" cy="663.3" r="16.4"/><circle cx="1470.7" cy="663.8" r="16.4"/><circle cx="1475.5" cy="661.2" r="16.4"/><circle cx="1482.1" cy="654.6" r="16.4"/><circle cx="1491.1" cy="652" r="16.4"/><circle cx="1494.5" cy="648" r="16.4"/><circle cx="1500.1" cy="644" r="16.4"/><circle cx="1502.2" cy="641.6" r="16.4"/><circle cx="1509" cy="637.4" r="16.4"/><circle cx="1517.7" cy="631" r="16.4"/><circle cx="1525.4" cy="626.1" r="16.4"/><circle cx="1535" cy="621.8" r="16.4"/><circle cx="1537.9" cy="616.2" r="16.4"/><circle cx="1548" cy="612" r="16.4"/><circle cx="1550.5" cy="610" r="16.4"/><circle cx="1553.4" cy="603.4" r="16.4"/><circle cx="1557.7" cy="602.5" r="16.4"/><circle cx="1561.9" cy="600.4" r="16.4"/><circle cx="1566.8" cy="593.3" r="16.4"/><circle cx="1571.2" cy="591.8" r="16.4"/><circle cx="1577.1" cy="585.6" r="16.4"/><circle cx="1587.5" cy="579.6" r="16.4"/><circle cx="1595.3" cy="572.2" r="16.4"/><circle cx="1603.4" cy="564" r="16.4"/><circle cx="1611.4" cy="560" r="16.4"/><circle cx="1617.5" cy="548.3" r="16.4"/><circle cx="1628.9" cy="544.9" r="16.4"/><circle cx="1630.6" cy="540.7" r="16.4"/><circle cx="1633.2" cy="537.7" r="16.4"/><circle cx="1641.5" cy="532" r="16.4"/><circle cx="1643.5" cy="528.5" r="16.4"/><circle cx="1649.9" cy="524.1" r="16.4"/><circle cx="1648.1" cy="518.3" r="16.4"/><circle cx="1652.8" cy="518.6" r="16.4"/><circle cx="1656.4" cy="514.3" r="16.4"/><circle cx="1659.8" cy="512.4" r="16.4"/><circle cx="1667.6" cy="506.6" r="16.4"/><circle cx="1676.6" cy="499.8" r="16.4"/><circle cx="1685.6" cy="495.1" r="16.4"/><circle cx="1689.3" cy="497.1" r="16.4"/><circle cx="1689.9" cy="495.9" r="16.4"/><circle cx="1691.9" cy="496.9" r="16.4"/><circle cx="1692.8" cy="495.2" r="16.4"/><circle cx="1695.7" cy="494.9" r="16.4"/><circle cx="1696" cy="496.5" r="16.4"/><circle cx="1698.2" cy="495.3" r="16.4"/><circle cx="1699.7" cy="496.3" r="16.4"/><circle cx="1700.4" cy="495" r="16.4"/><circle cx="1696.5" cy="510" r="16.4"/><circle cx="1681.4" cy="525" r="16.4"/><circle cx="1672" cy="544" r="16.4"/><circle cx="1652" cy="559.6" r="16.4"/><circle cx="1642.6" cy="578.5" r="16.4"/><circle cx="1622.5" cy="592.8" r="16.4"/><circle cx="1617.5" cy="607.8" r="16.4"/><circle cx="1598" cy="626" r="16.4"/><circle cx="1578.5" cy="640.4" r="16.4"/><circle cx="1565" cy="660.8" r="16.4"/><circle cx="1555" cy="675" r="16.4"/><circle cx="1534.6" cy="690.3" r="16.4"/><circle cx="1516" cy="708.7" r="16.4"/><circle cx="1501" cy="724" r="16.4"/><circle cx="1486.7" cy="739.3" r="16.4"/><circle cx="1467" cy="757.7" r="16.4"/><circle cx="1452" cy="771" r="16.4"/><circle cx="1437.7" cy="791.3" r="16.4"/><circle cx="1414" cy="805.6" r="16.4"/><circle cx="1403" cy="822.4" r="16.4"/><circle cx="1379.4" cy="841.8" r="16.4"/><circle cx="1364" cy="857" r="16.4"/><circle cx="1350" cy="876.5" r="16.4"/><circle cx="1328.4" cy="889.8" r="16.4"/><circle cx="1305" cy="905" r="16.4"/><circle cx="1291.7" cy="922.4" r="16.4"/><circle cx="1271" cy="938.7" r="16.4"/><circle cx="1252" cy="953" r="16.4"/><circle cx="1232.6" cy="972.4" r="16.4"/><circle cx="1213" cy="987.7" r="16.4"/><circle cx="1193.8" cy="1007" r="16.4"/><circle cx="1175.6" cy="1021.3" r="16.4"/><circle cx="1166.9" cy="1021.3" r="16.4"/><circle cx="1158.4" cy="1021.5" r="16.4"/><circle cx="1150" cy="1021.8" r="16.4"/><circle cx="1145.7" cy="1021.4" r="16.4"/><circle cx="1144" cy="1021.8" r="16.4"/><circle cx="1142.5" cy="1021" r="16.4"/><circle cx="1140.4" cy="1021.4" r="16.4"/><circle cx="1138.5" cy="1021" r="16.4"/><circle cx="1136.6" cy="1021.5" r="16.4"/><circle cx="1135" cy="1021.1" r="16.4"/><circle cx="1132.3" cy="1021.7" r="16.4"/><circle cx="1131.1" cy="1021.8" r="16.4"/><circle cx="1133.3" cy="1021.4" r="16.4"/><circle cx="1135.6" cy="1020.9" r="16.4"/><circle cx="1138.5" cy="1021.2" r="16.4"/><circle cx="1140.9" cy="1021.5" r="16.4"/>
</g>
<g fill="#fff" stroke="#f00" stroke-width="4.6" shape-rendering="crispEdges">
<circle cx="413" cy="1088.3" r="16.4"/><circle cx="413.4" cy="1080.2" r="16.4"/><circle cx="414.7" cy="1084.1" r="16.4"/><circle cx="417.2" cy="1077.9" r="16.4"/><circle cx="419" cy="1078.6" r="16.4"/><circle cx="421.7" cy="1079.1" r="16.4"/><circle cx="423" cy="1078.8" r="16.4"/><circle cx="426.4" cy="1082.2" r="16.4"/><circle cx="430.6" cy="1084" r="16.4"/><circle cx="432.5" cy="1079.6" r="16.4"/><circle cx="434.2" cy="1081.1" r="16.4"/><circle cx="436.5" cy="1080.5" r="16.4"/><circle cx="438" cy="1076.1" r="16.4"/><circle cx="441" cy="1084" r="16.4"/><circle cx="443.4" cy="1080" r="16.4"/><circle cx="445.2" cy="1080.4" r="16.4"/><circle cx="445.7" cy="1069.9" r="16.4"/><circle cx="449.3" cy="1078.9" r="16.4"/><circle cx="451" cy="1083.2" r="16.4"/><circle cx="453.7" cy="1076.2" r="16.4"/><circle cx="457.8" cy="1079.3" r="16.4"/><circle cx="459.3" cy="1074" r="16.4"/><circle cx="463.8" cy="1080" r="16.4"/><circle cx="467" cy="1077.8" r="16.4"/><circle cx="469.9" cy="1074.8" r="16.4"/><circle cx="472.7" cy="1078.6" r="16.4"/><circle cx="476.1" cy="1072.4" r="16.4"/><circle cx="478.4" cy="1077.3" r="16.4"/><circle cx="482.4" cy="1079.5" r="16.4"/><circle cx="484.7" cy="1075.1" r="16.4"/><circle cx="488.7" cy="1076.1" r="16.4"/><circle cx="490" cy="1073.4" r="16.4"/><circle cx="492.1" cy="1075.8" r="16.4"/><circle cx="495.9" cy="1074.5" r="16.4"/><circle cx="497.8" cy="1077.8" r="16.4"/><circle cx="501.6" cy="1074.3" r="16.4"/><circle cx="504.6" cy="1072" r="16.4"/><circle cx="507.9" cy="1074.9" r="16.4"/><circle cx="510.6" cy="1074.1" r="16.4"/><circle cx="513.4" cy="1076.3" r="16.4"/><circle cx="517.2" cy="1073.5" r="16.4"/><circle cx="520.8" cy="1073.1" r="16.4"/><circle cx="524.3" cy="1075" r="16.4"/><circle cx="527.4" cy="1072.3" r="16.4"/><circle cx="528.4" cy="1071.9" r="16.4"/><circle cx="529.9" cy="1071.2" r="16.4"/><circle cx="534.1" cy="1075.2" r="16.4"/><circle cx="537.8" cy="1074.2" r="16.4"/><circle cx="539.4" cy="1073.4" r="16.4"/><circle cx="542.1" cy="1077.2" r="16.4"/><circle cx="545.1" cy="1073.9" r="16.4"/><circle cx="546.2" cy="1071.8" r="16.4"/><circle cx="550" cy="1076.7" r="16.4"/><circle cx="550.6" cy="1074.2" r="16.4"/><circle cx="553.8" cy="1072.5" r="16.4"/><circle cx="557.3" cy="1070.3" r="16.4"/><circle cx="558.8" cy="1071.5" r="16.4"/><circle cx="561.2" cy="1073.4" r="16.4"/><circle cx="561.8" cy="1071" r="16.4"/><circle cx="562.5" cy="1069.3" r="16.4"/><circle cx="564.1" cy="1065.8" r="16.4"/><circle cx="565.3" cy="1066.1" r="16.4"/><circle cx="568.1" cy="1071.6" r="16.4"/><circle cx="571.3" cy="1068.8" r="16.4"/><circle cx="575.2" cy="1071.5" r="16.4"/><circle cx="578.2" cy="1064.7" r="16.4"/><circle cx="581.6" cy="1064.9" r="16.4"/><circle cx="585.1" cy="1066.7" r="16.4"/><circle cx="587.4" cy="1068.4" r="16.4"/><circle cx="591.2" cy="1067.2" r="16.4"/><circle cx="591.9" cy="1063" r="16.4"/><circle cx="594.7" cy="1063.5" r="16.4"/><circle cx="596.5" cy="1066.6" r="16.4"/><circle cx="599.1" cy="1063.6" r="16.4"/><circle cx="602.1" cy="1067.1" r="16.4"/><circle cx="602.9" cy="1063.9" r="16.4"/><circle cx="604.1" cy="1064.9" r="16.4"/><circle cx="605" cy="1063.4" r="16.4"/><circle cx="606.5" cy="1054.9" r="16.4"/><circle cx="612.2" cy="1061.2" r="16.4"/><circle cx="616.8" cy="1061" r="16.4"/><circle cx="619.1" cy="1063.1" r="16.4"/><circle cx="620.6" cy="1056.2" r="16.4"/><circle cx="624" cy="1055.4" r="16.4"/><circle cx="625.8" cy="1055.5" r="16.4"/><circle cx="627.7" cy="1059.6" r="16.4"/><circle cx="628" cy="1056.8" r="16.4"/><circle cx="631.9" cy="1057.7" r="16.4"/><circle cx="633.8" cy="1058" r="16.4"/><circle cx="635.3" cy="1057.2" r="16.4"/><circle cx="635.9" cy="1052.9" r="16.4"/><circle cx="638.5" cy="1054.9" r="16.4"/><circle cx="642.1" cy="1055.8" r="16.4"/><circle cx="647.6" cy="1059" r="16.4"/><circle cx="649.1" cy="1049.7" r="16.4"/><circle cx="653.1" cy="1053.1" r="16.4"/><circle cx="653.1" cy="1048.8" r="16.4"/><circle cx="655.6" cy="1052.8" r="16.4"/><circle cx="656.6" cy="1051.8" r="16.4"/><circle cx="658.7" cy="1048" r="16.4"/><circle cx="663.2" cy="1047.7" r="16.4"/><circle cx="667.8" cy="1047" r="16.4"/><circle cx="671.3" cy="1051.8" r="16.4"/><circle cx="671.7" cy="1048.1" r="16.4"/><circle cx="674.1" cy="1049.3" r="16.4"/><circle cx="673.8" cy="1043.6" r="16.4"/><circle cx="676.5" cy="1043.8" r="16.4"/><circle cx="679.1" cy="1047.6" r="16.4"/><circle cx="682.3" cy="1047.2" r="16.4"/><circle cx="684.4" cy="1045.7" r="16.4"/><circle cx="689.6" cy="1047.5" r="16.4"/><circle cx="690.7" cy="1045.2" r="16.4"/><circle cx="692.6" cy="1040.1" r="16.4"/><circle cx="697.5" cy="1043.1" r="16.4"/><circle cx="699.6" cy="1041.6" r="16.4"/><circle cx="700.8" cy="1041.2" r="16.4"/><circle cx="703.2" cy="1034.9" r="16.4"/><circle cx="706.2" cy="1032.8" r="16.4"/><circle cx="708.1" cy="1035.1" r="16.4"/><circle cx="711.1" cy="1032.4" r="16.4"/><circle cx="714.5" cy="1033.2" r="16.4"/><circle cx="720" cy="1035.4" r="16.4"/><circle cx="719.6" cy="1029.7" r="16.4"/><circle cx="725.1" cy="1029.9" r="16.4"/><circle cx="731.1" cy="1032.7" r="16.4"/><circle cx="730.1" cy="1025.7" r="16.4"/><circle cx="731.8" cy="1024.9" r="16.4"/><circle cx="735.2" cy="1025.7" r="16.4"/><circle cx="739.8" cy="1026.7" r="16.4"/><circle cx="741.6" cy="1020.4" r="16.4"/><circle cx="741" cy="1016.2" r="16.4"/><circle cx="748.1" cy="1027.5" r="16.4"/><circle cx="747.8" cy="1020.6" r="16.4"/><circle cx="751.8" cy="1018.1" r="16.4"/><circle cx="755.9" cy="1014.7" r="16.4"/><circle cx="757.8" cy="1013.6" r="16.4"/><circle cx="759.2" cy="1012" r="16.4"/><circle cx="761.1" cy="1009.4" r="16.4"/><circle cx="766.5" cy="1013.7" r="16.4"/><circle cx="771" cy="1011.2" r="16.4"/><circle cx="775" cy="1009.9" r="16.4"/><circle cx="778.3" cy="1007.4" r="16.4"/><circle cx="780.4" cy="1007.1" r="16.4"/><circle cx="782.3" cy="1001.5" r="16.4"/><circle cx="787.5" cy="1006.4" r="16.4"/><circle cx="788.7" cy="1000.5" r="16.4"/><circle cx="790" cy="999.5" r="16.4"/><circle cx="793.6" cy="998.8" r="16.4"/><circle cx="798.5" cy="997.8" r="16.4"/><circle cx="802" cy="998" r="16.4"/><circle cx="802.8" cy="992.8" r="16.4"/><circle cx="804.8" cy="987" r="16.4"/><circle cx="811" cy="993.6" r="16.4"/><circle cx="813.9" cy="989.3" r="16.4"/><circle cx="817.9" cy="988.7" r="16.4"/><circle cx="817.7" cy="982.7" r="16.4"/><circle cx="822" cy="983.1" r="16.4"/><circle cx="829.1" cy="986.3" r="16.4"/><circle cx="833" cy="985.5" r="16.4"/><circle cx="836" cy="981.3" r="16.4"/><circle cx="839.6" cy="976.6" r="16.4"/><circle cx="840.2" cy="975.1" r="16.4"/><circle cx="846.5" cy="976.5" r="16.4"/><circle cx="850.2" cy="971.6" r="16.4"/><circle cx="857.9" cy="976.8" r="16.4"/><circle cx="861.8" cy="974.1" r="16.4"/><circle cx="862.5" cy="970.5" r="16.4"/><circle cx="863.1" cy="966.6" r="16.4"/><circle cx="869.8" cy="970.4" r="16.4"/><circle cx="872.9" cy="969.7" r="16.4"/><circle cx="873" cy="963.7" r="16.4"/><circle cx="875.4" cy="964.4" r="16.4"/><circle cx="881.3" cy="963.6" r="16.4"/><circle cx="884.4" cy="962.3" r="16.4"/><circle cx="888.2" cy="958" r="16.4"/><circle cx="890.9" cy="955.5" r="16.4"/><circle cx="896" cy="956.4" r="16.4"/><circle cx="900.4" cy="957.7" r="16.4"/><circle cx="902.3" cy="959.2" r="16.4"/><circle cx="903.4" cy="956.8" r="16.4"/><circle cx="907.2" cy="953.4" r="16.4"/><circle cx="909.9" cy="948.6" r="16.4"/><circle cx="915.9" cy="949.8" r="16.4"/><circle cx="916.8" cy="947.1" r="16.4"/><circle cx="919" cy="944.8" r="16.4"/><circle cx="921.2" cy="946.8" r="16.4"/><circle cx="925.6" cy="946.9" r="16.4"/><circle cx="927.8" cy="942.5" r="16.4"/><circle cx="928.5" cy="937" r="16.4"/><circle cx="934" cy="942.1" r="16.4"/><circle cx="935.6" cy="935.5" r="16.4"/><circle cx="942.4" cy="936.1" r="16.4"/><circle cx="944.1" cy="936" r="16.4"/><circle cx="946.7" cy="931.2" r="16.4"/><circle cx="951.6" cy="929.2" r="16.4"/><circle cx="956.1" cy="926.1" r="16.4"/><circle cx="957.8" cy="925.7" r="16.4"/><circle cx="961.1" cy="923.6" r="16.4"/><circle cx="967.6" cy="923.7" r="16.4"/><circle cx="967.8" cy="918.2" r="16.4"/><circle cx="970.7" cy="918.6" r="16.4"/><circle cx="974.2" cy="919.5" r="16.4"/><circle cx="981.3" cy="919.3" r="16.4"/><circle cx="983.8" cy="917.2" r="16.4"/><circle cx="984.7" cy="912.4" r="16.4"/><circle cx="988.6" cy="911.9" r="16.4"/><circle cx="988.9" cy="908.2" r="16.4"/><circle cx="995.6" cy="907.6" r="16.4"/><circle cx="998.7" cy="900.7" r="16.4"/><circle cx="1006.7" cy="901.7" r="16.4"/><circle cx="1009.4" cy="900.4" r="16.4"/><circle cx="1011.1" cy="898.8" r="16.4"/><circle cx="1013.9" cy="893.7" r="16.4"/><circle cx="1020.6" cy="893.9" r="16.4"/><circle cx="1022.5" cy="892.2" r="16.4"/><circle cx="1022.9" cy="886.2" r="16.4"/><circle cx="1028.2" cy="883.6" r="16.4"/><circle cx="1037.8" cy="886.8" r="16.4"/><circle cx="1037.7" cy="878.6" r="16.4"/><circle cx="1040.5" cy="872.6" r="16.4"/><circle cx="1050.7" cy="878.6" r="16.4"/><circle cx="1050.8" cy="868" r="16.4"/><circle cx="1058.7" cy="867.5" r="16.4"/><circle cx="1065.6" cy="868.7" r="16.4"/><circle cx="1065.9" cy="862.7" r="16.4"/><circle cx="1073.1" cy="861" r="16.4"/><circle cx="1072.4" cy="853.5" r="16.4"/><circle cx="1077.9" cy="857.8" r="16.4"/><circle cx="1083.7" cy="853.7" r="16.4"/><circle cx="1086.6" cy="851.9" r="16.4"/><circle cx="1091.9" cy="853.8" r="16.4"/><circle cx="1092.9" cy="844.2" r="16.4"/><circle cx="1096.7" cy="842.8" r="16.4"/><circle cx="1102.9" cy="840.5" r="16.4"/><circle cx="1105.9" cy="838.3" r="16.4"/><circle cx="1110.3" cy="840.9" r="16.4"/><circle cx="1111.7" cy="836.9" r="16.4"/><circle cx="1112.7" cy="834.4" r="16.4"/><circle cx="1115.2" cy="833.4" r="16.4"/><circle cx="1119.1" cy="834.2" r="16.4"/><circle cx="1120.6" cy="830" r="16.4"/><circle cx="1126" cy="828.8" r="16.4"/><circle cx="1126.2" cy="822.6" r="16.4"/><circle cx="1131.2" cy="827.1" r="16.4"/><circle cx="1132.2" cy="824.5" r="16.4"/><circle cx="1135.4" cy="817.7" r="16.4"/><circle cx="1135.7" cy="814.1" r="16.4"/><circle cx="1141.1" cy="815.9" r="16.4"/><circle cx="1145.7" cy="811.4" r="16.4"/><circle cx="1152.5" cy="807.4" r="16.4"/><circle cx="1154.7" cy="803.6" r="16.4"/><circle cx="1160" cy="805.3" r="16.4"/><circle cx="1163.9" cy="798.5" r="16.4"/><circle cx="1168.5" cy="796.5" r="16.4"/><circle cx="1179.1" cy="798.2" r="16.4"/><circle cx="1179.9" cy="791.1" r="16.4"/><circle cx="1183.2" cy="788.4" r="16.4"/><circle cx="1185.4" cy="787.8" r="16.4"/><circle cx="1193.9" cy="786" r="16.4"/><circle cx="1199.1" cy="782.7" r="16.4"/><circle cx="1204.6" cy="777" r="16.4"/><circle cx="1210.1" cy="772.6" r="16.4"/><circle cx="1211.7" cy="772.3" r="16.4"/><circle cx="1213.8" cy="770.5" r="16.4"/><circle cx="1215.1" cy="767.9" r="16.4"/><circle cx="1221.7" cy="763" r="16.4"/><circle cx="1229.2" cy="763.1" r="16.4"/><circle cx="1230.4" cy="759.2" r="16.4"/><circle cx="1233.2" cy="754.6" r="16.4"/><circle cx="1237.7" cy="752" r="16.4"/><circle cx="1240.2" cy="752.2" r="16.4"/><circle cx="1247.7" cy="749.8" r="16.4"/><circle cx="1248.8" cy="742.4" r="16.4"/><circle cx="1249.8" cy="739.4" r="16.4"/><circle cx="1256.3" cy="739.4" r="16.4"/><circle cx="1258.2" cy="738.1" r="16.4"/><circle cx="1261" cy="736.6" r="16.4"/><circle cx="1264" cy="733.3" r="16.4"/><circle cx="1270.1" cy="731.2" r="16.4"/><circle cx="1272.2" cy="722.6" r="16.4"/><circle cx="1278.9" cy="722.4" r="16.4"/><circle cx="1279.9" cy="719.8" r="16.4"/><circle cx="1285.7" cy="714.8" r="16.4"/><circle cx="1289.2" cy="712" r="16.4"/><circle cx="1291.7" cy="708.9" r="16.4"/><circle cx="1296.9" cy="708" r="16.4"/><circle cx="1303" cy="703.2" r="16.4"/><circle cx="1305.2" cy="697.5" r="16.4"/><circle cx="1309.9" cy="697.1" r="16.4"/><circle cx="1308.9" cy="690.5" r="16.4"/><circle cx="1317.2" cy="689.4" r="16.4"/><circle cx="1317.6" cy="686.9" r="16.4"/><circle cx="1324.1" cy="685.3" r="16.4"/><circle cx="1329.4" cy="681.9" r="16.4"/><circle cx="1332.6" cy="675.1" r="16.4"/><circle cx="1338.2" cy="670.4" r="16.4"/><circle cx="1345.6" cy="670.8" r="16.4"/><circle cx="1350.7" cy="663.8" r="16.4"/><circle cx="1356.4" cy="657.4" r="16.4"/><circle cx="1359" cy="655.3" r="16.4"/><circle cx="1360.3" cy="652.7" r="16.4"/><circle cx="1362.6" cy="650.4" r="16.4"/><circle cx="1373.6" cy="648.4" r="16.4"/><circle cx="1375" cy="641.4" r="16.4"/><circle cx="1379.1" cy="639.8" r="16.4"/><circle cx="1386.5" cy="636.6" r="16.4"/><circle cx="1388.8" cy="633" r="16.4"/><circle cx="1390.7" cy="627.1" r="16.4"/><circle cx="1395.4" cy="624.3" r="16.4"/><circle cx="1400.1" cy="618.3" r="16.4"/><circle cx="1403.3" cy="617.6" r="16.4"/><circle cx="1410" cy="610.6" r="16.4"/><circle cx="1413" cy="608.4" r="16.4"/><circle cx="1419" cy="607.4" r="16.4"/><circle cx="1423.3" cy="602.5" r="16.4"/><circle cx="1428.9" cy="595.7" r="16.4"/><circle cx="1435.7" cy="591.3" r="16.4"/><circle cx="1438.7" cy="585.7" r="16.4"/><circle cx="1442.8" cy="582.8" r="16.4"/><circle cx="1446.6" cy="581.7" r="16.4"/><circle cx="1451.7" cy="578.1" r="16.4"/><circle cx="1457.8" cy="574.3" r="16.4"/><circle cx="1461" cy="570.7" r="16.4"/><circle cx="1469.1" cy="565.1" r="16.4"/><circle cx="1469.4" cy="559.3" r="16.4"/><circle cx="1477.2" cy="552.9" r="16.4"/><circle cx="1484.4" cy="548.4" r="16.4"/><circle cx="1492.9" cy="543.2" r="16.4"/><circle cx="1498.2" cy="541.9" r="16.4"/><circle cx="1498.9" cy="536.8" r="16.4"/><circle cx="1502.1" cy="532.9" r="16.4"/><circle cx="1510.1" cy="528.4" r="16.4"/><circle cx="1512.1" cy="522.6" r="16.4"/><circle cx="1521.3" cy="517.8" r="16.4"/><circle cx="1522" cy="515.2" r="16.4"/><circle cx="1524.9" cy="513.1" r="16.4"/><circle cx="1530.9" cy="507.8" r="16.4"/><circle cx="1537.4" cy="503.3" r="16.4"/><circle cx="1544.6" cy="494.6" r="16.4"/><circle cx="1551.9" cy="487.7" r="16.4"/><circle cx="1562.1" cy="482" r="16.4"/><circle cx="1571.2" cy="474.3" r="16.4"/><circle cx="1579.6" cy="466.3" r="16.4"/><circle cx="1589.2" cy="460.2" r="16.4"/><circle cx="1593.2" cy="452.1" r="16.4"/><circle cx="1595.7" cy="447.9" r="16.4"/><circle cx="1602.1" cy="448.2" r="16.4"/><circle cx="1603.8" cy="444.7" r="16.4"/><circle cx="1608.7" cy="436.9" r="16.4"/><circle cx="1619.8" cy="430.4" r="16.4"/><circle cx="1622.6" cy="423.8" r="16.4"/><circle cx="1627.3" cy="422.1" r="16.4"/><circle cx="1628.4" cy="416.3" r="16.4"/><circle cx="1632.5" cy="415.9" r="16.4"/><circle cx="1641.9" cy="407.6" r="16.4"/><circle cx="1649.1" cy="400.4" r="16.4"/><circle cx="1653.8" cy="395.5" r="16.4"/><circle cx="1660.2" cy="390.5" r="16.4"/><circle cx="1666.6" cy="385.4" r="16.4"/><circle cx="1672.3" cy="376.3" r="16.4"/><circle cx="1681.7" cy="370.7" r="16.4"/><circle cx="1687.7" cy="365.5" r="16.4"/><circle cx="1691" cy="363.3" r="16.4"/><circle cx="1697.8" cy="358.1" r="16.4"/><circle cx="1703.8" cy="349.6" r="16.4"/><circle cx="1706.7" cy="347.1" r="16.4"/><circle cx="1717.4" cy="347.9" r="16.4"/><circle cx="1718.6" cy="345.4" r="16.4"/><circle cx="1720.2" cy="344.5" r="16.4"/><circle cx="1720.5" cy="345.7" r="16.4"/><circle cx="1722.6" cy="344" r="16.4"/><circle cx="1726" cy="344.6" r="16.4"/><circle cx="1725.9" cy="345" r="16.4"/><circle cx="1727" cy="345.9" r="16.4"/><circle cx="1729" cy="345.4" r="16.4"/><circle cx="1729.4" cy="342.7" r="16.4"/><circle cx="1732.5" cy="345.5" r="16.4"/><circle cx="1734.4" cy="344.8" r="16.4"/><circle cx="1735.8" cy="343.3" r="16.4"/><circle cx="1734.8" cy="344.4" r="16.4"/><circle cx="1737.6" cy="345.6" r="16.4"/><circle cx="1741.2" cy="344" r="16.4"/><circle cx="1741.8" cy="343.4" r="16.4"/><circle cx="1744.7" cy="344.7" r="16.4"/><circle cx="1743.2" cy="343.8" r="16.4"/><circle cx="1739.8" cy="346.8" r="16.4"/><circle cx="1737.9" cy="346.5" r="16.4"/><circle cx="1739" cy="358" r="16.4"/><circle cx="1732.5" cy="372.8" r="16.4"/><circle cx="1717" cy="388" r="16.4"/><circle cx="1700" cy="405.4" r="16.4"/><circle cx="1685.6" cy="421.8" r="16.4"/><circle cx="1677.4" cy="436" r="16.4"/><circle cx="1661" cy="454.4" r="16.4"/><circle cx="1644.8" cy="473.8" r="16.4"/><circle cx="1627" cy="487" r="16.4"/><circle cx="1612" cy="503" r="16.4"/><circle cx="1600" cy="522" r="16.4"/><circle cx="1583.6" cy="537" r="16.4"/><circle cx="1572" cy="552.6" r="16.4"/><circle cx="1559" cy="568" r="16.4"/><circle cx="1538.7" cy="583" r="16.4"/><circle cx="1519" cy="601.6" r="16.4"/><circle cx="1510" cy="617" r="16.4"/><circle cx="1495" cy="636.3" r="16.4"/><circle cx="1481.6" cy="650.6" r="16.4"/><circle cx="1465" cy="671" r="16.4"/><circle cx="1451" cy="686" r="16.4"/><circle cx="1432.6" cy="702.6" r="16.4"/><circle cx="1418" cy="719" r="16.4"/><circle cx="1399" cy="732" r="16.4"/><circle cx="1383.6" cy="749.5" r="16.4"/><circle cx="1368" cy="767" r="16.4"/><circle cx="1354" cy="785" r="16.4"/><circle cx="1338.6" cy="803" r="16.4"/><circle cx="1315" cy="818.4" r="16.4"/><circle cx="1294.8" cy="832.6" r="16.4"/><circle cx="1281.5" cy="852" r="16.4"/><circle cx="1266" cy="866" r="16.4"/><circle cx="1246.8" cy="884.7" r="16.4"/><circle cx="1228.5" cy="900" r="16.4"/><circle cx="1204" cy="918" r="16.4"/><circle cx="1189.7" cy="934.6" r="16.4"/><circle cx="1174.4" cy="949" r="16.4"/><circle cx="1147" cy="965" r="16.4"/><circle cx="1120" cy="984.6" r="16.4"/><circle cx="1108" cy="999" r="16.4"/><circle cx="1090.6" cy="1006.2" r="16.4"/><circle cx="1087.6" cy="1006.2" r="16.4"/><circle cx="1084.4" cy="1005.5" r="16.4"/><circle cx="1083" cy="1006.3" r="16.4"/><circle cx="1080.4" cy="1006.2" r="16.4"/><circle cx="1077.7" cy="1006" r="16.4"/><circle cx="1075.2" cy="1005.7" r="16.4"/><circle cx="1072.9" cy="1005.9" r="16.4"/><circle cx="1070.6" cy="1006.3" r="16.4"/><circle cx="1067.9" cy="1005.7" r="16.4"/><circle cx="1065.2" cy="1006.1" r="16.4"/><circle cx="1062.7" cy="1005.7" r="16.4"/><circle cx="1060.5" cy="1005.4" r="16.4"/><circle cx="1058.4" cy="1005.7" r="16.4"/><circle cx="1055.2" cy="1005.7" r="16.4"/><circle cx="1053" cy="1006.5" r="16.4"/><circle cx="1050.3" cy="1005.9" r="16.4"/><circle cx="1047.8" cy="1005.9" r="16.4"/><circle cx="1045.4" cy="1006" r="16.4"/>
</g>
<g fill="#fff" stroke="#00f" stroke-width="4.6" shape-rendering="crispEdges">
<circle cx="412.6" cy="1084.8" r="16.4"/><circle cx="414.9" cy="1087.7" r="16.4"/><circle cx="417.2" cy="1083.3" r="16.4"/><circle cx="418" cy="1083.3" r="16.4"/><circle cx="421.6" cy="1083.5" r="16.4"/><circle cx="425.8" cy="1085.1" r="16.4"/><circle cx="428.1" cy="1084.5" r="16.4"/><circle cx="430.5" cy="1080" r="16.4"/><circle cx="431.6" cy="1079" r="16.4"/><circle cx="434.1" cy="1078.2" r="16.4"/><circle cx="437.6" cy="1081.5" r="16.4"/><circle cx="440.9" cy="1080.8" r="16.4"/><circle cx="443.6" cy="1081.2" r="16.4"/><circle cx="447.4" cy="1081.7" r="16.4"/><circle cx="449.5" cy="1079.8" r="16.4"/><circle cx="452.3" cy="1075.2" r="16.4"/><circle cx="456.2" cy="1076.4" r="16.4"/><circle cx="459.1" cy="1083" r="16.4"/><circle cx="462.8" cy="1080.5" r="16.4"/><circle cx="463.8" cy="1078.7" r="16.4"/><circle cx="465.6" cy="1082.2" r="16.4"/><circle cx="468.2" cy="1078.5" r="16.4"/><circle cx="469.7" cy="1076.3" r="16.4"/><circle cx="471.9" cy="1078.7" r="16.4"/><circle cx="474.2" cy="1073.5" r="16.4"/><circle cx="477.4" cy="1075.3" r="16.4"/><circle cx="482" cy="1083.1" r="16.4"/><circle cx="484.1" cy="1071.2" r="16.4"/><circle cx="486.3" cy="1082.1" r="16.4"/><circle cx="489.4" cy="1071.9" r="16.4"/><circle cx="492.5" cy="1076.7" r="16.4"/><circle cx="496" cy="1075" r="16.4"/><circle cx="498.8" cy="1076.5" r="16.4"/><circle cx="502.6" cy="1077.4" r="16.4"/><circle cx="506.9" cy="1080.3" r="16.4"/><circle cx="509" cy="1078.7" r="16.4"/><circle cx="510.1" cy="1074.8" r="16.4"/><circle cx="514.1" cy="1080.4" r="16.4"/><circle cx="514.8" cy="1075.3" r="16.4"/><circle cx="518.1" cy="1075.3" r="16.4"/><circle cx="520.2" cy="1081.3" r="16.4"/><circle cx="522.5" cy="1070.5" r="16.4"/><circle cx="526.8" cy="1075.2" r="16.4"/><circle cx="529.7" cy="1076.6" r="16.4"/><circle cx="530.6" cy="1076.4" r="16.4"/><circle cx="533.6" cy="1078.1" r="16.4"/><circle cx="534.9" cy="1080.7" r="16.4"/><circle cx="536.7" cy="1076.8" r="16.4"/><circle cx="540.9" cy="1077.4" r="16.4"/><circle cx="543.2" cy="1073.7" r="16.4"/><circle cx="545.8" cy="1072.9" r="16.4"/><circle cx="548.6" cy="1072.2" r="16.4"/><circle cx="551.8" cy="1078" r="16.4"/><circle cx="553.9" cy="1073.7" r="16.4"/><circle cx="557.3" cy="1074.9" r="16.4"/><circle cx="561.8" cy="1076.7" r="16.4"/><circle cx="564.2" cy="1073.8" r="16.4"/><circle cx="566.5" cy="1073.9" r="16.4"/><circle cx="569.8" cy="1077.4" r="16.4"/><circle cx="572.5" cy="1073.9" r="16.4"/><circle cx="573.2" cy="1071.2" r="16.4"/><circle cx="576.4" cy="1070.8" r="16.4"/><circle cx="578.6" cy="1071.5" r="16.4"/><circle cx="579.1" cy="1068.4" r="16.4"/><circle cx="580.2" cy="1069.4" r="16.4"/><circle cx="581.5" cy="1066.1" r="16.4"/><circle cx="584.5" cy="1070" r="16.4"/><circle cx="586.7" cy="1070.3" r="16.4"/><circle cx="588.4" cy="1068.9" r="16.4"/><circle cx="591" cy="1073.7" r="16.4"/><circle cx="592.8" cy="1070.8" r="16.4"/><circle cx="595.6" cy="1069.7" r="16.4"/><circle cx="599" cy="1069.1" r="16.4"/><circle cx="603.2" cy="1070.9" r="16.4"/><circle cx="604.8" cy="1069.9" r="16.4"/><circle cx="608.5" cy="1070.7" r="16.4"/><circle cx="608.8" cy="1066.8" r="16.4"/><circle cx="613.4" cy="1069" r="16.4"/><circle cx="615.5" cy="1067.2" r="16.4"/><circle cx="616.8" cy="1064.4" r="16.4"/><circle cx="621" cy="1066.7" r="16.4"/><circle cx="621.2" cy="1062.3" r="16.4"/><circle cx="622.5" cy="1062.1" r="16.4"/><circle cx="626.6" cy="1062.1" r="16.4"/><circle cx="630.8" cy="1061.9" r="16.4"/><circle cx="634.8" cy="1061.6" r="16.4"/><circle cx="637.5" cy="1059.4" r="16.4"/><circle cx="637.6" cy="1055.9" r="16.4"/><circle cx="640.5" cy="1058" r="16.4"/><circle cx="641.6" cy="1054.7" r="16.4"/><circle cx="643.7" cy="1053.5" r="16.4"/><circle cx="649.1" cy="1055.6" r="16.4"/><circle cx="652.2" cy="1059.9" r="16.4"/><circle cx="654.1" cy="1052.6" r="16.4"/><circle cx="656.6" cy="1045.2" r="16.4"/><circle cx="663.6" cy="1052.1" r="16.4"/><circle cx="664.3" cy="1048.9" r="16.4"/><circle cx="666" cy="1043" r="16.4"/><circle cx="670.2" cy="1046.4" r="16.4"/><circle cx="672.8" cy="1048.7" r="16.4"/><circle cx="672.5" cy="1044.2" r="16.4"/><circle cx="676.5" cy="1043.6" r="16.4"/><circle cx="679" cy="1047.6" r="16.4"/><circle cx="681.4" cy="1040.6" r="16.4"/><circle cx="687.3" cy="1044" r="16.4"/><circle cx="686.4" cy="1039.1" r="16.4"/><circle cx="691.2" cy="1040.7" r="16.4"/><circle cx="694.8" cy="1040.2" r="16.4"/><circle cx="694.8" cy="1032.2" r="16.4"/><circle cx="701.2" cy="1039" r="16.4"/><circle cx="702" cy="1035" r="16.4"/><circle cx="706.8" cy="1038.9" r="16.4"/><circle cx="707.8" cy="1031.3" r="16.4"/><circle cx="711.7" cy="1032.2" r="16.4"/><circle cx="715.9" cy="1031" r="16.4"/><circle cx="721" cy="1030.5" r="16.4"/><circle cx="722.7" cy="1024.9" r="16.4"/><circle cx="725.6" cy="1022.8" r="16.4"/><circle cx="730.6" cy="1022.6" r="16.4"/><circle cx="731.7" cy="1020.4" r="16.4"/><circle cx="732.7" cy="1015.9" r="16.4"/><circle cx="738.4" cy="1017.5" r="16.4"/><circle cx="739.1" cy="1016.9" r="16.4"/><circle cx="740" cy="1015.5" r="16.4"/><circle cx="743.3" cy="1019.1" r="16.4"/><circle cx="741.5" cy="1013.2" r="16.4"/><circle cx="744.2" cy="1011.6" r="16.4"/><circle cx="747.7" cy="1013.2" r="16.4"/><circle cx="749" cy="1007.7" r="16.4"/><circle cx="751" cy="1007.7" r="16.4"/><circle cx="754.7" cy="1010.1" r="16.4"/><circle cx="758.3" cy="1008.5" r="16.4"/><circle cx="760.2" cy="1006.6" r="16.4"/><circle cx="762.3" cy="1005" r="16.4"/><circle cx="765.4" cy="1003.4" r="16.4"/><circle cx="768.4" cy="998.8" r="16.4"/><circle cx="771.8" cy="997.6" r="16.4"/><circle cx="776" cy="999.7" r="16.4"/><circle cx="778" cy="993.8" r="16.4"/><circle cx="782.8" cy="998" r="16.4"/><circle cx="782.5" cy="991.6" r="16.4"/><circle cx="784.8" cy="994.1" r="16.4"/><circle cx="786" cy="989.3" r="16.4"/><circle cx="793.5" cy="994.3" r="16.4"/><circle cx="796.5" cy="994.5" r="16.4"/><circle cx="795.8" cy="987.5" r="16.4"/><circle cx="801.2" cy="992.2" r="16.4"/><circle cx="804.8" cy="990.4" r="16.4"/><circle cx="808.3" cy="986.2" r="16.4"/><circle cx="810.1" cy="979.9" r="16.4"/><circle cx="816.2" cy="984.4" r="16.4"/><circle cx="816.8" cy="983.3" r="16.4"/><circle cx="817.3" cy="980.8" r="16.4"/><circle cx="818.2" cy="979.3" r="16.4"/><circle cx="820.4" cy="980.5" r="16.4"/><circle cx="820.3" cy="977.9" r="16.4"/><circle cx="826.9" cy="980.1" r="16.4"/><circle cx="830.4" cy="978.1" r="16.4"/><circle cx="834.7" cy="975.6" r="16.4"/><circle cx="836.8" cy="969.5" r="16.4"/><circle cx="838.5" cy="970.2" r="16.4"/><circle cx="840.6" cy="965" r="16.4"/><circle cx="843.5" cy="967.1" r="16.4"/><circle cx="841.6" cy="961" r="16.4"/><circle cx="844.6" cy="961.2" r="16.4"/><circle cx="847.8" cy="962.5" r="16.4"/><circle cx="850.4" cy="963.3" r="16.4"/><circle cx="856.2" cy="964.3" r="16.4"/><circle cx="856" cy="958.1" r="16.4"/><circle cx="860.2" cy="960" r="16.4"/><circle cx="863.2" cy="959.2" r="16.4"/><circle cx="867.6" cy="955.2" r="16.4"/><circle cx="869.3" cy="952.3" r="16.4"/><circle cx="872.3" cy="948.7" r="16.4"/><circle cx="876.3" cy="946.3" r="16.4"/><circle cx="878.5" cy="943.3" r="16.4"/><circle cx="884.2" cy="944.5" r="16.4"/><circle cx="884.3" cy="941.9" r="16.4"/><circle cx="890.4" cy="942.5" r="16.4"/><circle cx="890.7" cy="937" r="16.4"/><circle cx="895.9" cy="936.6" r="16.4"/><circle cx="898.3" cy="936.4" r="16.4"/><circle cx="900.1" cy="931.9" r="16.4"/><circle cx="905.3" cy="931.6" r="16.4"/><circle cx="908.6" cy="925.9" r="16.4"/><circle cx="914.2" cy="928.5" r="16.4"/><circle cx="915.5" cy="920.6" r="16.4"/><circle cx="917.8" cy="920.1" r="16.4"/><circle cx="917.9" cy="918.1" r="16.4"/><circle cx="921.2" cy="919.5" r="16.4"/><circle cx="922.4" cy="915.9" r="16.4"/><circle cx="927.3" cy="920.1" r="16.4"/><circle cx="928.3" cy="910.2" r="16.4"/><circle cx="933.5" cy="911.7" r="16.4"/><circle cx="938.7" cy="909.6" r="16.4"/><circle cx="939.2" cy="903.8" r="16.4"/><circle cx="945.9" cy="905.1" r="16.4"/><circle cx="948.1" cy="899.2" r="16.4"/><circle cx="953.4" cy="896" r="16.4"/><circle cx="956.7" cy="896.6" r="16.4"/><circle cx="959" cy="891" r="16.4"/><circle cx="962.1" cy="885.4" r="16.4"/><circle cx="967.9" cy="889.8" r="16.4"/><circle cx="970.4" cy="889.6" r="16.4"/><circle cx="975.5" cy="888.3" r="16.4"/><circle cx="973.2" cy="880" r="16.4"/><circle cx="980" cy="879.7" r="16.4"/><circle cx="986.4" cy="880" r="16.4"/><circle cx="988.7" cy="880.4" r="16.4"/><circle cx="990.2" cy="877.7" r="16.4"/><circle cx="989.4" cy="870.6" r="16.4"/><circle cx="991.3" cy="871.3" r="16.4"/><circle cx="993.3" cy="868.8" r="16.4"/><circle cx="997.6" cy="871" r="16.4"/><circle cx="1002.1" cy="869.6" r="16.4"/><circle cx="1003.8" cy="864.5" r="16.4"/><circle cx="1005.4" cy="863.6" r="16.4"/><circle cx="1009.5" cy="866.4" r="16.4"/><circle cx="1013.1" cy="860.5" r="16.4"/><circle cx="1017.6" cy="855.5" r="16.4"/><circle cx="1021.2" cy="854.7" r="16.4"/><circle cx="1020.7" cy="848.8" r="16.4"/><circle cx="1026" cy="847.4" r="16.4"/><circle cx="1027.6" cy="844.8" r="16.4"/><circle cx="1036.7" cy="848.2" r="16.4"/><circle cx="1037.6" cy="841.7" r="16.4"/><circle cx="1038.3" cy="839.4" r="16.4"/><circle cx="1044.3" cy="838.5" r="16.4"/><circle cx="1047.7" cy="834.1" r="16.4"/><circle cx="1052.4" cy="832" r="16.4"/><circle cx="1058.4" cy="831.7" r="16.4"/><circle cx="1064.2" cy="831" r="16.4"/><circle cx="1063.7" cy="826.7" r="16.4"/><circle cx="1065.3" cy="823.2" r="16.4"/><circle cx="1068.7" cy="818.2" r="16.4"/><circle cx="1073.5" cy="815.9" r="16.4"/><circle cx="1077.6" cy="814.6" r="16.4"/><circle cx="1080.3" cy="815.4" r="16.4"/><circle cx="1084.1" cy="810.9" r="16.4"/><circle cx="1086.9" cy="804.7" r="16.4"/><circle cx="1091.6" cy="805.2" r="16.4"/><circle cx="1098.8" cy="803.6" r="16.4"/><circle cx="1097.4" cy="798.9" r="16.4"/><circle cx="1103.5" cy="796.8" r="16.4"/><circle cx="1105.6" cy="793.7" r="16.4"/><circle cx="1111.7" cy="793.9" r="16.4"/><circle cx="1113.5" cy="785.7" r="16.4"/><circle cx="1119.5" cy="790.4" r="16.4"/><circle cx="1120.2" cy="786" r="16.4"/><circle cx="1125.1" cy="782" r="16.4"/><circle cx="1130" cy="778.2" r="16.4"/><circle cx="1133.8" cy="776.5" r="16.4"/><circle cx="1138.9" cy="772.9" r="16.4"/><circle cx="1139.5" cy="765" r="16.4"/><circle cx="1143" cy="765.7" r="16.4"/><circle cx="1148.4" cy="764.6" r="16.4"/><circle cx="1152.3" cy="761.1" r="16.4"/><circle cx="1158.3" cy="758" r="16.4"/><circle cx="1159.6" cy="757" r="16.4"/><circle cx="1161.2" cy="746.4" r="16.4"/><circle cx="1166.3" cy="746.4" r="16.4"/><circle cx="1171.7" cy="743.9" r="16.4"/><circle cx="1178.1" cy="738.9" r="16.4"/><circle cx="1183.3" cy="733.6" r="16.4"/><circle cx="1186.4" cy="729.8" r="16.4"/><circle cx="1188" cy="729.3" r="16.4"/><circle cx="1193.6" cy="725.4" r="16.4"/><circle cx="1197.1" cy="721.6" r="16.4"/><circle cx="1202.4" cy="720.4" r="16.4"/><circle cx="1204.6" cy="720.3" r="16.4"/><circle cx="1206.3" cy="714.5" r="16.4"/><circle cx="1210.3" cy="710.6" r="16.4"/><circle cx="1218.2" cy="706.9" r="16.4"/><circle cx="1222.7" cy="701.1" r="16.4"/><circle cx="1228.7" cy="698.7" r="16.4"/><circle cx="1230.5" cy="695.8" r="16.4"/><circle cx="1229" cy="691" r="16.4"/><circle cx="1234" cy="690.6" r="16.4"/><circle cx="1240.4" cy="685.8" r="16.4"/><circle cx="1245.9" cy="680.1" r="16.4"/><circle cx="1252.7" cy="678.5" r="16.4"/><circle cx="1255.4" cy="670.9" r="16.4"/><circle cx="1260.3" cy="670.1" r="16.4"/><circle cx="1262.6" cy="660.6" r="16.4"/><circle cx="1269" cy="660.2" r="16.4"/><circle cx="1269.3" cy="656.9" r="16.4"/><circle cx="1272.9" cy="657.9" r="16.4"/><circle cx="1274.7" cy="655.5" r="16.4"/><circle cx="1277.8" cy="650.9" r="16.4"/><circle cx="1280.4" cy="646.5" r="16.4"/><circle cx="1286.3" cy="642.9" r="16.4"/><circle cx="1293.5" cy="639.5" r="16.4"/><circle cx="1296.8" cy="636" r="16.4"/><circle cx="1303.4" cy="632.2" r="16.4"/><circle cx="1303.3" cy="625.4" r="16.4"/><circle cx="1310.1" cy="623.2" r="16.4"/><circle cx="1312.4" cy="620.5" r="16.4"/><circle cx="1317.2" cy="614" r="16.4"/><circle cx="1318.5" cy="611.1" r="16.4"/><circle cx="1322" cy="609.8" r="16.4"/><circle cx="1323.4" cy="606.7" r="16.4"/><circle cx="1325.8" cy="606.4" r="16.4"/><circle cx="1328" cy="604.9" r="16.4"/><circle cx="1330.2" cy="603.8" r="16.4"/><circle cx="1329" cy="600" r="16.4"/><circle cx="1336" cy="596.3" r="16.4"/><circle cx="1336.1" cy="593.3" r="16.4"/><circle cx="1339.3" cy="593.7" r="16.4"/><circle cx="1345.6" cy="586.1" r="16.4"/><circle cx="1350" cy="582.4" r="16.4"/><circle cx="1350.8" cy="578.7" r="16.4"/><circle cx="1352.8" cy="576.7" r="16.4"/><circle cx="1355" cy="575.7" r="16.4"/><circle cx="1359.9" cy="568.7" r="16.4"/><circle cx="1365.9" cy="566.4" r="16.4"/><circle cx="1367.1" cy="562.1" r="16.4"/><circle cx="1371.1" cy="560.1" r="16.4"/><circle cx="1371.9" cy="554.3" r="16.4"/><circle cx="1374" cy="552.6" r="16.4"/><circle cx="1376.9" cy="545.8" r="16.4"/><circle cx="1381.9" cy="547.8" r="16.4"/><circle cx="1383.7" cy="544.9" r="16.4"/><circle cx="1386.9" cy="544.8" r="16.4"/><circle cx="1392.2" cy="536.5" r="16.4"/><circle cx="1395.5" cy="534.5" r="16.4"/><circle cx="1399.7" cy="526.1" r="16.4"/><circle cx="1407" cy="519.1" r="16.4"/><circle cx="1409.6" cy="515.1" r="16.4"/><circle cx="1415.1" cy="510.2" r="16.4"/><circle cx="1417.4" cy="506" r="16.4"/><circle cx="1425" cy="499.8" r="16.4"/><circle cx="1428.2" cy="495.9" r="16.4"/><circle cx="1433.5" cy="489.6" r="16.4"/><circle cx="1438.3" cy="481.9" r="16.4"/><circle cx="1445.4" cy="476.4" r="16.4"/><circle cx="1450.2" cy="466.3" r="16.4"/><circle cx="1454.5" cy="462.8" r="16.4"/><circle cx="1462.1" cy="456.9" r="16.4"/><circle cx="1466.1" cy="451.5" r="16.4"/><circle cx="1473.1" cy="445.7" r="16.4"/><circle cx="1477.4" cy="438.8" r="16.4"/><circle cx="1481.2" cy="432.9" r="16.4"/><circle cx="1484.9" cy="431.4" r="16.4"/><circle cx="1489.4" cy="426.4" r="16.4"/><circle cx="1496.1" cy="419.5" r="16.4"/><circle cx="1499" cy="416" r="16.4"/><circle cx="1505.4" cy="407.4" r="16.4"/><circle cx="1512.7" cy="399.2" r="16.4"/><circle cx="1521.2" cy="398.2" r="16.4"/><circle cx="1522.3" cy="391.3" r="16.4"/><circle cx="1529" cy="389.5" r="16.4"/><circle cx="1537.1" cy="380.5" r="16.4"/><circle cx="1538.3" cy="377" r="16.4"/><circle cx="1540.8" cy="375.2" r="16.4"/><circle cx="1547.6" cy="369.2" r="16.4"/><circle cx="1550.8" cy="366.8" r="16.4"/><circle cx="1556.7" cy="359.9" r="16.4"/><circle cx="1560.2" cy="356.7" r="16.4"/><circle cx="1569.6" cy="348.3" r="16.4"/><circle cx="1575.8" cy="344.9" r="16.4"/><circle cx="1580.1" cy="333.9" r="16.4"/><circle cx="1586.4" cy="328.6" r="16.4"/><circle cx="1591.1" cy="327.1" r="16.4"/><circle cx="1599.6" cy="319.3" r="16.4"/><circle cx="1605" cy="319.6" r="16.4"/><circle cx="1605.5" cy="313.6" r="16.4"/><circle cx="1614.9" cy="305.4" r="16.4"/><circle cx="1617.7" cy="301.2" r="16.4"/><circle cx="1623.4" cy="290.4" r="16.4"/><circle cx="1631.5" cy="282.6" r="16.4"/><circle cx="1641.7" cy="275.1" r="16.4"/><circle cx="1649.8" cy="272.9" r="16.4"/><circle cx="1652.1" cy="269.6" r="16.4"/><circle cx="1655.5" cy="262.3" r="16.4"/><circle cx="1658.9" cy="260.7" r="16.4"/><circle cx="1659.7" cy="262.7" r="16.4"/><circle cx="1661.3" cy="261.7" r="16.4"/><circle cx="1662.5" cy="260.8" r="16.4"/><circle cx="1663.5" cy="261" r="16.4"/><circle cx="1666" cy="261.6" r="16.4"/><circle cx="1666.7" cy="260.4" r="16.4"/><circle cx="1671.4" cy="275.1" r="16.4"/><circle cx="1657.6" cy="293.9" r="16.4"/><circle cx="1643.2" cy="311.4" r="16.4"/><circle cx="1633.2" cy="325.2" r="16.4"/><circle cx="1623.2" cy="340.9" r="16.4"/><circle cx="1612.5" cy="356.5" r="16.4"/><circle cx="1599" cy="377" r="16.4"/><circle cx="1583.6" cy="391" r="16.4"/><circle cx="1573.5" cy="407.5" r="16.4"/><circle cx="1559" cy="426" r="16.4"/><circle cx="1549" cy="442" r="16.4"/><circle cx="1534.7" cy="460.6" r="16.4"/><circle cx="1526.5" cy="475" r="16.4"/><circle cx="1511" cy="491" r="16.4"/><circle cx="1500" cy="509.5" r="16.4"/><circle cx="1485.6" cy="526" r="16.4"/><circle cx="1475.4" cy="542.4" r="16.4"/><circle cx="1461" cy="556.7" r="16.4"/><circle cx="1452" cy="572" r="16.4"/><circle cx="1433.6" cy="591.4" r="16.4"/><circle cx="1427.5" cy="605.7" r="16.4"/><circle cx="1411" cy="626" r="16.4"/><circle cx="1403" cy="639" r="16.4"/><circle cx="1389.8" cy="653.6" r="16.4"/><circle cx="1378.5" cy="670" r="16.4"/><circle cx="1368" cy="686" r="16.4"/><circle cx="1350" cy="703.6" r="16.4"/><circle cx="1333.7" cy="726" r="16.4"/><circle cx="1325.5" cy="738.3" r="16.4"/><circle cx="1311" cy="756.6" r="16.4"/><circle cx="1296" cy="773" r="16.4"/><circle cx="1282" cy="790" r="16.4"/><circle cx="1267" cy="808" r="16.4"/><circle cx="1252" cy="821.4" r="16.4"/><circle cx="1232.6" cy="840.8" r="16.4"/><circle cx="1219.3" cy="855" r="16.4"/><circle cx="1204" cy="870.4" r="16.4"/><circle cx="1193.8" cy="889.8" r="16.4"/><circle cx="1179.5" cy="905" r="16.4"/><circle cx="1156" cy="924.4" r="16.4"/><circle cx="1140.8" cy="938.7" r="16.4"/><circle cx="1121.4" cy="953" r="16.4"/><circle cx="1102" cy="971.4" r="16.4"/><circle cx="1087.7" cy="986.7" r="16.4"/><circle cx="1070.8" cy="1001.8" r="16.4"/><circle cx="1068.1" cy="1002.2" r="16.4"/><circle cx="1065.8" cy="1002.4" r="16.4"/><circle cx="1064.2" cy="1001.9" r="16.4"/><circle cx="1060.8" cy="1002.4" r="16.4"/><circle cx="1059.2" cy="1002.3" r="16.4"/><circle cx="1057" cy="1001.4" r="16.4"/><circle cx="1055.3" cy="1002.6" r="16.4"/><circle cx="1052.4" cy="1001.5" r="16.4"/><circle cx="1050.7" cy="1001.1" r="16.4"/><circle cx="1049.1" cy="1002.2" r="16.4"/><circle cx="1046.3" cy="1002.2" r="16.4"/><circle cx="1044.2" cy="1002.4" r="16.4"/><circle cx="1042.4" cy="1001.9" r="16.4"/><circle cx="1040.3" cy="1001.9" r="16.4"/><circle cx="1037.7" cy="1002" r="16.4"/><circle cx="1035.4" cy="1001.7" r="16.4"/><circle cx="1033.6" cy="1002" r="16.4"/><circle cx="1034.5" cy="1002" r="16.4"/><circle cx="1038.4" cy="1001.9" r="16.4"/><circle cx="1041.8" cy="1002.2" r="16.4"/><circle cx="1044.8" cy="1002" r="16.4"/><circle cx="1047.5" cy="1002.8" r="16.4"/><circle cx="420" cy="1084.5" r="16.4"/><circle cx="429" cy="1085" r="16.4"/><circle cx="448" cy="1079.5" r="16.4"/><circle cx="478" cy="1080" r="16.4"/><circle cx="488" cy="1079" r="16.4"/><circle cx="497" cy="1078" r="16.4"/><circle cx="505" cy="1077" r="16.4"/><circle cx="512" cy="1075.5" r="16.4"/><circle cx="540" cy="1076" r="16.4"/><circle cx="551" cy="1075.5" r="16.4"/>
</g>
<rect x="1148.3" y="60" width="890" height="92" fill="#fff"/>
<rect x="1764" y="197" width="274" height="90" fill="#fff"/>
<rect x="1764" y="313.6" width="274" height="89.3" fill="#fff"/>
<rect x="1764" y="430.6" width="274" height="89.6" fill="#fff"/>
<text transform="translate(0 131.60) scale(0.9520 1)" font-family="'Liberation Serif', serif" font-weight="bold" fill="#000"><tspan x="1216.74" font-size="69.70" font-style="italic">annealing </tspan><tspan x="1523.62" font-size="69.70">Cu-doped NiO films</tspan></text>
<text transform="translate(0 267.20) scale(0.9700 1)" font-family="'Liberation Serif', serif" font-weight="bold" fill="#00f"><tspan x="1828.20" font-size="71.28" font-style="italic" font-weight="normal" stroke="#00f" stroke-width="1.5">@ </tspan><tspan x="1909.03" font-size="70.68">500</tspan><tspan x="2013.54" dy="-32.4" font-size="48.09">o</tspan><tspan x="2036.98" dy="32.4" font-size="70.68">C</tspan></text>
<text transform="translate(0 382.60) scale(0.9700 1)" font-family="'Liberation Serif', serif" font-weight="bold" fill="#f00"><tspan x="1828.20" font-size="71.28" font-style="italic" font-weight="normal" stroke="#f00" stroke-width="1.5">@ </tspan><tspan x="1910.80" font-size="70.68">400</tspan><tspan x="2013.54" dy="-32.4" font-size="48.09">o</tspan><tspan x="2036.98" dy="32.4" font-size="70.68">C</tspan></text>
<text transform="translate(0 499.30) scale(0.9700 1)" font-family="'Liberation Serif', serif" font-weight="bold" fill="#000"><tspan x="1828.20" font-size="71.28" font-style="italic" font-weight="normal" stroke="#000" stroke-width="1.5">@ </tspan><tspan x="1907.48" font-size="70.68">300</tspan><tspan x="2013.54" dy="-32.4" font-size="48.09">o</tspan><tspan x="2036.98" dy="32.4" font-size="70.68">C</tspan></text>
</svg>
</body></html>
